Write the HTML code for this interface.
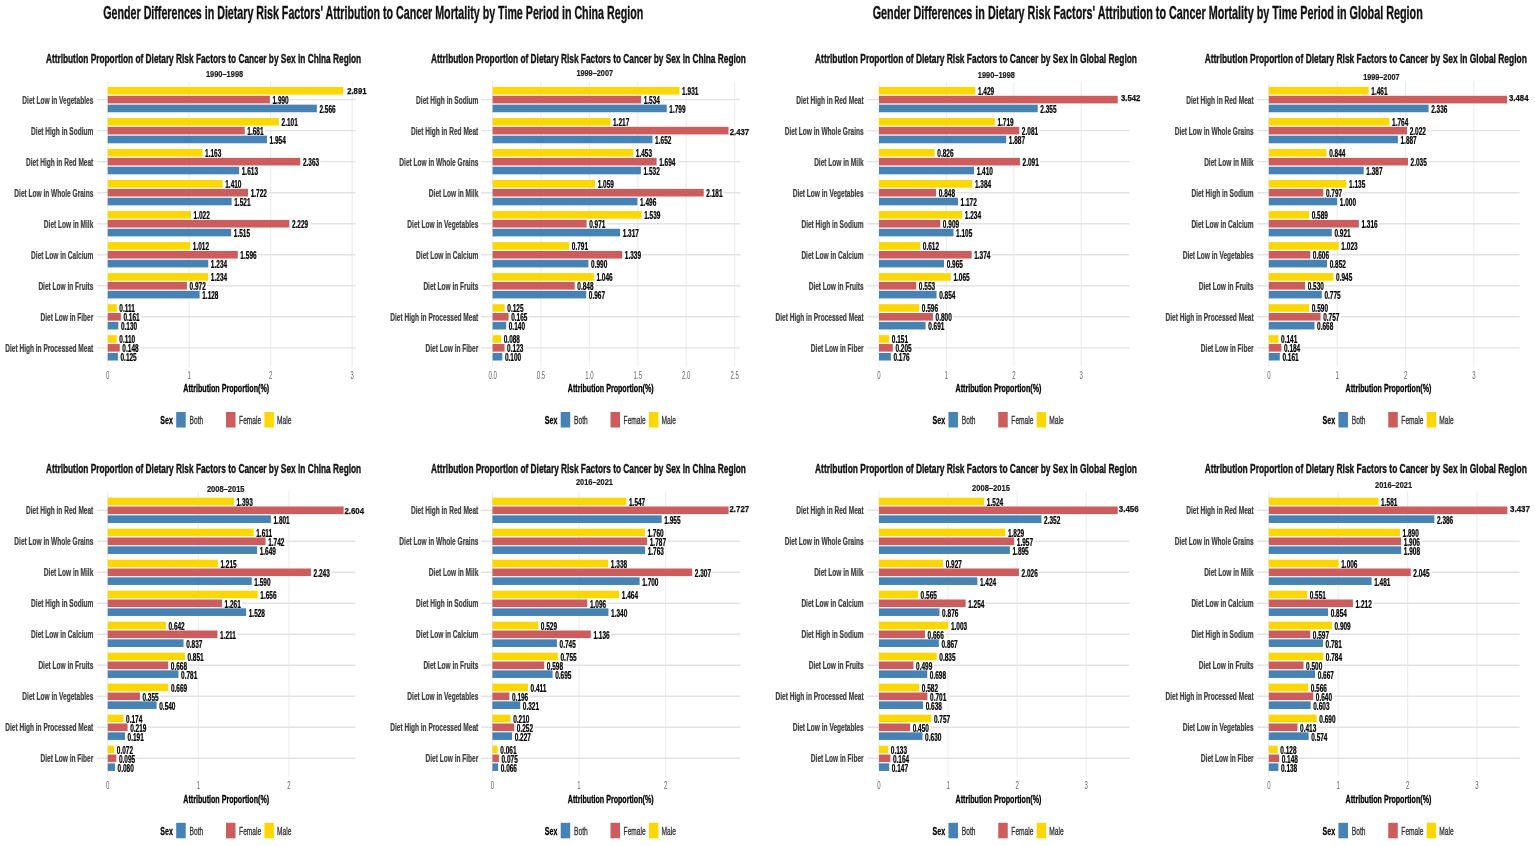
<!DOCTYPE html>
<html><head><meta charset="utf-8"><title>Gender Differences in Dietary Risk Factors</title>
<style>
html,body{margin:0;padding:0;background:#fff;overflow:hidden;}
svg{display:block;}
text{font-family:"Liberation Sans",Arial,sans-serif;}
</style></head>
<body>
<svg width="1535" height="846" viewBox="0 0 1535 846">
<rect width="1535" height="846" fill="#fff"/>
<text x="103.30" y="19.00" font-size="17.8" font-weight="bold" fill="#111" stroke="#111" stroke-width="0.35" textLength="539.90" lengthAdjust="spacingAndGlyphs">Gender Differences in Dietary Risk Factors' Attribution to Cancer Mortality by Time Period in China Region</text>
<text x="872.70" y="19.00" font-size="17.8" font-weight="bold" fill="#111" stroke="#111" stroke-width="0.35" textLength="550.10" lengthAdjust="spacingAndGlyphs">Gender Differences in Dietary Risk Factors' Attribution to Cancer Mortality by Time Period in Global Region</text>
<line x1="107.70" y1="81.3" x2="107.70" y2="367.0" stroke="#EEEEEE" stroke-width="1.2"/>
<line x1="189.20" y1="81.3" x2="189.20" y2="367.0" stroke="#EEEEEE" stroke-width="1.2"/>
<line x1="270.70" y1="81.3" x2="270.70" y2="367.0" stroke="#EEEEEE" stroke-width="1.2"/>
<line x1="352.20" y1="81.3" x2="352.20" y2="367.0" stroke="#EEEEEE" stroke-width="1.2"/>
<line x1="97.0" y1="99.60" x2="355.4" y2="99.60" stroke="#E3E3E3" stroke-width="1.4"/>
<line x1="97.0" y1="130.63" x2="355.4" y2="130.63" stroke="#E3E3E3" stroke-width="1.4"/>
<line x1="97.0" y1="161.66" x2="355.4" y2="161.66" stroke="#E3E3E3" stroke-width="1.4"/>
<line x1="97.0" y1="192.69" x2="355.4" y2="192.69" stroke="#E3E3E3" stroke-width="1.4"/>
<line x1="97.0" y1="223.72" x2="355.4" y2="223.72" stroke="#E3E3E3" stroke-width="1.4"/>
<line x1="97.0" y1="254.75" x2="355.4" y2="254.75" stroke="#E3E3E3" stroke-width="1.4"/>
<line x1="97.0" y1="285.78" x2="355.4" y2="285.78" stroke="#E3E3E3" stroke-width="1.4"/>
<line x1="97.0" y1="316.81" x2="355.4" y2="316.81" stroke="#E3E3E3" stroke-width="1.4"/>
<line x1="97.0" y1="347.84" x2="355.4" y2="347.84" stroke="#E3E3E3" stroke-width="1.4"/>
<rect x="343.32" y="86.80" width="24.68" height="8.50" fill="#fff"/>
<rect x="269.88" y="95.30" width="20.12" height="8.6" fill="#fff"/>
<rect x="316.83" y="104.15" width="20.12" height="8.6" fill="#fff"/>
<rect x="278.93" y="117.48" width="20.12" height="8.6" fill="#fff"/>
<rect x="244.70" y="126.33" width="20.12" height="8.6" fill="#fff"/>
<rect x="266.95" y="135.18" width="20.12" height="8.6" fill="#fff"/>
<rect x="202.48" y="148.51" width="20.12" height="8.6" fill="#fff"/>
<rect x="300.28" y="157.36" width="20.12" height="8.6" fill="#fff"/>
<rect x="239.16" y="166.21" width="20.12" height="8.6" fill="#fff"/>
<rect x="222.62" y="179.54" width="20.12" height="8.6" fill="#fff"/>
<rect x="248.04" y="188.39" width="20.12" height="8.6" fill="#fff"/>
<rect x="231.66" y="197.24" width="20.12" height="8.6" fill="#fff"/>
<rect x="190.99" y="210.57" width="20.12" height="8.6" fill="#fff"/>
<rect x="289.36" y="219.42" width="20.12" height="8.6" fill="#fff"/>
<rect x="231.17" y="228.27" width="20.12" height="8.6" fill="#fff"/>
<rect x="190.18" y="241.60" width="20.12" height="8.6" fill="#fff"/>
<rect x="237.77" y="250.45" width="20.12" height="8.6" fill="#fff"/>
<rect x="208.27" y="259.30" width="20.12" height="8.6" fill="#fff"/>
<rect x="208.27" y="272.63" width="20.12" height="8.6" fill="#fff"/>
<rect x="186.92" y="281.48" width="20.12" height="8.6" fill="#fff"/>
<rect x="199.63" y="290.33" width="20.12" height="8.6" fill="#fff"/>
<rect x="116.75" y="303.66" width="20.12" height="8.6" fill="#fff"/>
<rect x="120.82" y="312.51" width="20.12" height="8.6" fill="#fff"/>
<rect x="118.30" y="321.36" width="20.12" height="8.6" fill="#fff"/>
<rect x="116.67" y="334.69" width="20.12" height="8.6" fill="#fff"/>
<rect x="119.76" y="343.54" width="20.12" height="8.6" fill="#fff"/>
<rect x="117.89" y="352.39" width="20.12" height="8.6" fill="#fff"/>
<rect x="107.70" y="86.95" width="235.62" height="7.6" fill="#FFD700"/>
<rect x="107.70" y="95.80" width="162.19" height="7.6" fill="#CD5C5C"/>
<rect x="107.70" y="104.65" width="209.13" height="7.6" fill="#4682B4"/>
<rect x="107.70" y="117.98" width="171.23" height="7.6" fill="#FFD700"/>
<rect x="107.70" y="126.83" width="137.00" height="7.6" fill="#CD5C5C"/>
<rect x="107.70" y="135.68" width="159.25" height="7.6" fill="#4682B4"/>
<rect x="107.70" y="149.01" width="94.78" height="7.6" fill="#FFD700"/>
<rect x="107.70" y="157.86" width="192.58" height="7.6" fill="#CD5C5C"/>
<rect x="107.70" y="166.71" width="131.46" height="7.6" fill="#4682B4"/>
<rect x="107.70" y="180.04" width="114.91" height="7.6" fill="#FFD700"/>
<rect x="107.70" y="188.89" width="140.34" height="7.6" fill="#CD5C5C"/>
<rect x="107.70" y="197.74" width="123.96" height="7.6" fill="#4682B4"/>
<rect x="107.70" y="211.07" width="83.29" height="7.6" fill="#FFD700"/>
<rect x="107.70" y="219.92" width="181.66" height="7.6" fill="#CD5C5C"/>
<rect x="107.70" y="228.77" width="123.47" height="7.6" fill="#4682B4"/>
<rect x="107.70" y="242.10" width="82.48" height="7.6" fill="#FFD700"/>
<rect x="107.70" y="250.95" width="130.07" height="7.6" fill="#CD5C5C"/>
<rect x="107.70" y="259.80" width="100.57" height="7.6" fill="#4682B4"/>
<rect x="107.70" y="273.13" width="100.57" height="7.6" fill="#FFD700"/>
<rect x="107.70" y="281.98" width="79.22" height="7.6" fill="#CD5C5C"/>
<rect x="107.70" y="290.83" width="91.93" height="7.6" fill="#4682B4"/>
<rect x="107.70" y="304.16" width="9.05" height="7.6" fill="#FFD700"/>
<rect x="107.70" y="313.01" width="13.12" height="7.6" fill="#CD5C5C"/>
<rect x="107.70" y="321.86" width="10.60" height="7.6" fill="#4682B4"/>
<rect x="107.70" y="335.19" width="8.96" height="7.6" fill="#FFD700"/>
<rect x="107.70" y="344.04" width="12.06" height="7.6" fill="#CD5C5C"/>
<rect x="107.70" y="352.89" width="10.19" height="7.6" fill="#4682B4"/>
<text x="347.20" y="93.80" font-size="8.4" font-weight="bold" fill="#111" stroke="#111" stroke-width="0.25" textLength="19.30" lengthAdjust="spacingAndGlyphs">2.891</text>
<text transform="translate(272.49,104.10) scale(0.650,1)" font-size="10.0" font-weight="bold" fill="#000" text-anchor="start" stroke="#000" stroke-width="0.25">1.990</text>
<text transform="translate(319.43,112.95) scale(0.650,1)" font-size="10.0" font-weight="bold" fill="#000" text-anchor="start" stroke="#000" stroke-width="0.25">2.566</text>
<text transform="translate(93.30,103.60) scale(0.590,1)" font-size="11.1" font-weight="bold" fill="#404040" text-anchor="end" stroke="#404040" stroke-width="0.25">Diet Low in Vegetables</text>
<text transform="translate(281.53,126.28) scale(0.650,1)" font-size="10.0" font-weight="bold" fill="#000" text-anchor="start" stroke="#000" stroke-width="0.25">2.101</text>
<text transform="translate(247.30,135.13) scale(0.650,1)" font-size="10.0" font-weight="bold" fill="#000" text-anchor="start" stroke="#000" stroke-width="0.25">1.681</text>
<text transform="translate(269.55,143.98) scale(0.650,1)" font-size="10.0" font-weight="bold" fill="#000" text-anchor="start" stroke="#000" stroke-width="0.25">1.954</text>
<text transform="translate(93.30,134.63) scale(0.590,1)" font-size="11.1" font-weight="bold" fill="#404040" text-anchor="end" stroke="#404040" stroke-width="0.25">Diet High in Sodium</text>
<text transform="translate(205.08,157.31) scale(0.650,1)" font-size="10.0" font-weight="bold" fill="#000" text-anchor="start" stroke="#000" stroke-width="0.25">1.163</text>
<text transform="translate(302.88,166.16) scale(0.650,1)" font-size="10.0" font-weight="bold" fill="#000" text-anchor="start" stroke="#000" stroke-width="0.25">2.363</text>
<text transform="translate(241.76,175.01) scale(0.650,1)" font-size="10.0" font-weight="bold" fill="#000" text-anchor="start" stroke="#000" stroke-width="0.25">1.613</text>
<text transform="translate(93.30,165.66) scale(0.590,1)" font-size="11.1" font-weight="bold" fill="#404040" text-anchor="end" stroke="#404040" stroke-width="0.25">Diet High in Red Meat</text>
<text transform="translate(225.22,188.34) scale(0.650,1)" font-size="10.0" font-weight="bold" fill="#000" text-anchor="start" stroke="#000" stroke-width="0.25">1.410</text>
<text transform="translate(250.64,197.19) scale(0.650,1)" font-size="10.0" font-weight="bold" fill="#000" text-anchor="start" stroke="#000" stroke-width="0.25">1.722</text>
<text transform="translate(234.26,206.04) scale(0.650,1)" font-size="10.0" font-weight="bold" fill="#000" text-anchor="start" stroke="#000" stroke-width="0.25">1.521</text>
<text transform="translate(93.30,196.69) scale(0.590,1)" font-size="11.1" font-weight="bold" fill="#404040" text-anchor="end" stroke="#404040" stroke-width="0.25">Diet Low in Whole Grains</text>
<text transform="translate(193.59,219.37) scale(0.650,1)" font-size="10.0" font-weight="bold" fill="#000" text-anchor="start" stroke="#000" stroke-width="0.25">1.022</text>
<text transform="translate(291.96,228.22) scale(0.650,1)" font-size="10.0" font-weight="bold" fill="#000" text-anchor="start" stroke="#000" stroke-width="0.25">2.229</text>
<text transform="translate(233.77,237.07) scale(0.650,1)" font-size="10.0" font-weight="bold" fill="#000" text-anchor="start" stroke="#000" stroke-width="0.25">1.515</text>
<text transform="translate(93.30,227.72) scale(0.590,1)" font-size="11.1" font-weight="bold" fill="#404040" text-anchor="end" stroke="#404040" stroke-width="0.25">Diet Low in Milk</text>
<text transform="translate(192.78,250.40) scale(0.650,1)" font-size="10.0" font-weight="bold" fill="#000" text-anchor="start" stroke="#000" stroke-width="0.25">1.012</text>
<text transform="translate(240.37,259.25) scale(0.650,1)" font-size="10.0" font-weight="bold" fill="#000" text-anchor="start" stroke="#000" stroke-width="0.25">1.596</text>
<text transform="translate(210.87,268.10) scale(0.650,1)" font-size="10.0" font-weight="bold" fill="#000" text-anchor="start" stroke="#000" stroke-width="0.25">1.234</text>
<text transform="translate(93.30,258.75) scale(0.590,1)" font-size="11.1" font-weight="bold" fill="#404040" text-anchor="end" stroke="#404040" stroke-width="0.25">Diet Low in Calcium</text>
<text transform="translate(210.87,281.43) scale(0.650,1)" font-size="10.0" font-weight="bold" fill="#000" text-anchor="start" stroke="#000" stroke-width="0.25">1.234</text>
<text transform="translate(189.52,290.28) scale(0.650,1)" font-size="10.0" font-weight="bold" fill="#000" text-anchor="start" stroke="#000" stroke-width="0.25">0.972</text>
<text transform="translate(202.23,299.13) scale(0.650,1)" font-size="10.0" font-weight="bold" fill="#000" text-anchor="start" stroke="#000" stroke-width="0.25">1.128</text>
<text transform="translate(93.30,289.78) scale(0.590,1)" font-size="11.1" font-weight="bold" fill="#404040" text-anchor="end" stroke="#404040" stroke-width="0.25">Diet Low in Fruits</text>
<text transform="translate(119.35,312.46) scale(0.650,1)" font-size="10.0" font-weight="bold" fill="#000" text-anchor="start" stroke="#000" stroke-width="0.25">0.111</text>
<text transform="translate(123.42,321.31) scale(0.650,1)" font-size="10.0" font-weight="bold" fill="#000" text-anchor="start" stroke="#000" stroke-width="0.25">0.161</text>
<text transform="translate(120.89,330.16) scale(0.650,1)" font-size="10.0" font-weight="bold" fill="#000" text-anchor="start" stroke="#000" stroke-width="0.25">0.130</text>
<text transform="translate(93.30,320.81) scale(0.590,1)" font-size="11.1" font-weight="bold" fill="#404040" text-anchor="end" stroke="#404040" stroke-width="0.25">Diet Low in Fiber</text>
<text transform="translate(119.27,343.49) scale(0.650,1)" font-size="10.0" font-weight="bold" fill="#000" text-anchor="start" stroke="#000" stroke-width="0.25">0.110</text>
<text transform="translate(122.36,352.34) scale(0.650,1)" font-size="10.0" font-weight="bold" fill="#000" text-anchor="start" stroke="#000" stroke-width="0.25">0.148</text>
<text transform="translate(120.49,361.19) scale(0.650,1)" font-size="10.0" font-weight="bold" fill="#000" text-anchor="start" stroke="#000" stroke-width="0.25">0.125</text>
<text transform="translate(93.30,351.84) scale(0.590,1)" font-size="11.1" font-weight="bold" fill="#404040" text-anchor="end" stroke="#404040" stroke-width="0.25">Diet High in Processed Meat</text>
<text transform="translate(107.70,378.70) scale(0.580,1)" font-size="10.4" font-weight="normal" fill="#666666" text-anchor="middle">0</text>
<text transform="translate(189.20,378.70) scale(0.580,1)" font-size="10.4" font-weight="normal" fill="#666666" text-anchor="middle">1</text>
<text transform="translate(270.70,378.70) scale(0.580,1)" font-size="10.4" font-weight="normal" fill="#666666" text-anchor="middle">2</text>
<text transform="translate(352.20,378.70) scale(0.580,1)" font-size="10.4" font-weight="normal" fill="#666666" text-anchor="middle">3</text>
<text transform="translate(226.20,392.00) scale(0.685,1)" font-size="10.4" font-weight="bold" fill="#000" text-anchor="middle" stroke="#000" stroke-width="0.3">Attribution Proportion(%)</text>
<text x="45.90" y="62.90" font-size="12.9" font-weight="bold" fill="#111" stroke="#111" stroke-width="0.4" textLength="315.30" lengthAdjust="spacingAndGlyphs">Attribution Proportion of Dietary Risk Factors to Cancer by Sex in China Region</text>
<text x="205.90" y="76.70" font-size="9.0" font-weight="bold" fill="#1a1a1a" stroke="#1a1a1a" stroke-width="0.2" textLength="37.30" lengthAdjust="spacingAndGlyphs">1990–1998</text>
<text transform="translate(160.30,424.20) scale(0.600,1)" font-size="11.8" font-weight="bold" fill="#000" text-anchor="start" stroke="#000" stroke-width="0.3">Sex</text>
<rect x="176.20" y="412.00" width="9.5" height="15.5" fill="#4682B4"/>
<text transform="translate(189.60,424.00) scale(0.575,1)" font-size="11.5" font-weight="normal" fill="#333" text-anchor="start" stroke="#333" stroke-width="0.35">Both</text>
<rect x="226.00" y="412.00" width="9.5" height="15.5" fill="#CD5C5C"/>
<text transform="translate(239.10,424.00) scale(0.575,1)" font-size="11.5" font-weight="normal" fill="#333" text-anchor="start" stroke="#333" stroke-width="0.35">Female</text>
<rect x="264.40" y="412.00" width="9.5" height="15.5" fill="#FFD700"/>
<text transform="translate(277.10,424.00) scale(0.575,1)" font-size="11.5" font-weight="normal" fill="#333" text-anchor="start" stroke="#333" stroke-width="0.35">Male</text>
<line x1="492.60" y1="81.3" x2="492.60" y2="367.0" stroke="#EEEEEE" stroke-width="1.2"/>
<line x1="541.00" y1="81.3" x2="541.00" y2="367.0" stroke="#EEEEEE" stroke-width="1.2"/>
<line x1="589.40" y1="81.3" x2="589.40" y2="367.0" stroke="#EEEEEE" stroke-width="1.2"/>
<line x1="637.80" y1="81.3" x2="637.80" y2="367.0" stroke="#EEEEEE" stroke-width="1.2"/>
<line x1="686.20" y1="81.3" x2="686.20" y2="367.0" stroke="#EEEEEE" stroke-width="1.2"/>
<line x1="734.60" y1="81.3" x2="734.60" y2="367.0" stroke="#EEEEEE" stroke-width="1.2"/>
<line x1="481.0" y1="99.60" x2="740.4" y2="99.60" stroke="#E3E3E3" stroke-width="1.4"/>
<line x1="481.0" y1="130.63" x2="740.4" y2="130.63" stroke="#E3E3E3" stroke-width="1.4"/>
<line x1="481.0" y1="161.66" x2="740.4" y2="161.66" stroke="#E3E3E3" stroke-width="1.4"/>
<line x1="481.0" y1="192.69" x2="740.4" y2="192.69" stroke="#E3E3E3" stroke-width="1.4"/>
<line x1="481.0" y1="223.72" x2="740.4" y2="223.72" stroke="#E3E3E3" stroke-width="1.4"/>
<line x1="481.0" y1="254.75" x2="740.4" y2="254.75" stroke="#E3E3E3" stroke-width="1.4"/>
<line x1="481.0" y1="285.78" x2="740.4" y2="285.78" stroke="#E3E3E3" stroke-width="1.4"/>
<line x1="481.0" y1="316.81" x2="740.4" y2="316.81" stroke="#E3E3E3" stroke-width="1.4"/>
<line x1="481.0" y1="347.84" x2="740.4" y2="347.84" stroke="#E3E3E3" stroke-width="1.4"/>
<rect x="679.52" y="86.45" width="20.12" height="8.6" fill="#fff"/>
<rect x="641.09" y="95.30" width="20.12" height="8.6" fill="#fff"/>
<rect x="666.74" y="104.15" width="20.12" height="8.6" fill="#fff"/>
<rect x="610.41" y="117.48" width="20.12" height="8.6" fill="#fff"/>
<rect x="728.50" y="126.80" width="22.20" height="9.20" fill="#fff"/>
<rect x="652.51" y="135.18" width="20.12" height="8.6" fill="#fff"/>
<rect x="633.25" y="148.51" width="20.12" height="8.6" fill="#fff"/>
<rect x="656.58" y="157.36" width="20.12" height="8.6" fill="#fff"/>
<rect x="640.90" y="166.21" width="20.12" height="8.6" fill="#fff"/>
<rect x="595.11" y="179.54" width="20.12" height="8.6" fill="#fff"/>
<rect x="703.72" y="188.39" width="20.12" height="8.6" fill="#fff"/>
<rect x="637.41" y="197.24" width="20.12" height="8.6" fill="#fff"/>
<rect x="641.58" y="210.57" width="20.12" height="8.6" fill="#fff"/>
<rect x="586.59" y="219.42" width="20.12" height="8.6" fill="#fff"/>
<rect x="620.09" y="228.27" width="20.12" height="8.6" fill="#fff"/>
<rect x="569.17" y="241.60" width="20.12" height="8.6" fill="#fff"/>
<rect x="622.22" y="250.45" width="20.12" height="8.6" fill="#fff"/>
<rect x="588.43" y="259.30" width="20.12" height="8.6" fill="#fff"/>
<rect x="593.85" y="272.63" width="20.12" height="8.6" fill="#fff"/>
<rect x="574.69" y="281.48" width="20.12" height="8.6" fill="#fff"/>
<rect x="586.21" y="290.33" width="20.12" height="8.6" fill="#fff"/>
<rect x="504.70" y="303.66" width="20.12" height="8.6" fill="#fff"/>
<rect x="508.57" y="312.51" width="20.12" height="8.6" fill="#fff"/>
<rect x="506.15" y="321.36" width="20.12" height="8.6" fill="#fff"/>
<rect x="501.12" y="334.69" width="20.12" height="8.6" fill="#fff"/>
<rect x="504.51" y="343.54" width="20.12" height="8.6" fill="#fff"/>
<rect x="502.28" y="352.39" width="20.12" height="8.6" fill="#fff"/>
<rect x="492.60" y="86.95" width="186.92" height="7.6" fill="#FFD700"/>
<rect x="492.60" y="95.80" width="148.49" height="7.6" fill="#CD5C5C"/>
<rect x="492.60" y="104.65" width="174.14" height="7.6" fill="#4682B4"/>
<rect x="492.60" y="117.98" width="117.81" height="7.6" fill="#FFD700"/>
<rect x="492.60" y="126.83" width="235.90" height="7.6" fill="#CD5C5C"/>
<rect x="492.60" y="135.68" width="159.91" height="7.6" fill="#4682B4"/>
<rect x="492.60" y="149.01" width="140.65" height="7.6" fill="#FFD700"/>
<rect x="492.60" y="157.86" width="163.98" height="7.6" fill="#CD5C5C"/>
<rect x="492.60" y="166.71" width="148.30" height="7.6" fill="#4682B4"/>
<rect x="492.60" y="180.04" width="102.51" height="7.6" fill="#FFD700"/>
<rect x="492.60" y="188.89" width="211.12" height="7.6" fill="#CD5C5C"/>
<rect x="492.60" y="197.74" width="144.81" height="7.6" fill="#4682B4"/>
<rect x="492.60" y="211.07" width="148.98" height="7.6" fill="#FFD700"/>
<rect x="492.60" y="219.92" width="93.99" height="7.6" fill="#CD5C5C"/>
<rect x="492.60" y="228.77" width="127.49" height="7.6" fill="#4682B4"/>
<rect x="492.60" y="242.10" width="76.57" height="7.6" fill="#FFD700"/>
<rect x="492.60" y="250.95" width="129.62" height="7.6" fill="#CD5C5C"/>
<rect x="492.60" y="259.80" width="95.83" height="7.6" fill="#4682B4"/>
<rect x="492.60" y="273.13" width="101.25" height="7.6" fill="#FFD700"/>
<rect x="492.60" y="281.98" width="82.09" height="7.6" fill="#CD5C5C"/>
<rect x="492.60" y="290.83" width="93.61" height="7.6" fill="#4682B4"/>
<rect x="492.60" y="304.16" width="12.10" height="7.6" fill="#FFD700"/>
<rect x="492.60" y="313.01" width="15.97" height="7.6" fill="#CD5C5C"/>
<rect x="492.60" y="321.86" width="13.55" height="7.6" fill="#4682B4"/>
<rect x="492.60" y="335.19" width="8.52" height="7.6" fill="#FFD700"/>
<rect x="492.60" y="344.04" width="11.91" height="7.6" fill="#CD5C5C"/>
<rect x="492.60" y="352.89" width="9.68" height="7.6" fill="#4682B4"/>
<text transform="translate(682.12,95.25) scale(0.650,1)" font-size="10.0" font-weight="bold" fill="#000" text-anchor="start" stroke="#000" stroke-width="0.25">1.931</text>
<text transform="translate(643.69,104.10) scale(0.650,1)" font-size="10.0" font-weight="bold" fill="#000" text-anchor="start" stroke="#000" stroke-width="0.25">1.534</text>
<text transform="translate(669.34,112.95) scale(0.650,1)" font-size="10.0" font-weight="bold" fill="#000" text-anchor="start" stroke="#000" stroke-width="0.25">1.799</text>
<text transform="translate(478.30,103.60) scale(0.590,1)" font-size="11.1" font-weight="bold" fill="#404040" text-anchor="end" stroke="#404040" stroke-width="0.25">Diet High in Sodium</text>
<text transform="translate(613.01,126.28) scale(0.650,1)" font-size="10.0" font-weight="bold" fill="#000" text-anchor="start" stroke="#000" stroke-width="0.25">1.217</text>
<text x="729.70" y="134.50" font-size="8.4" font-weight="bold" fill="#111" stroke="#111" stroke-width="0.25" textLength="19.50" lengthAdjust="spacingAndGlyphs">2.437</text>
<text transform="translate(655.11,143.98) scale(0.650,1)" font-size="10.0" font-weight="bold" fill="#000" text-anchor="start" stroke="#000" stroke-width="0.25">1.652</text>
<text transform="translate(478.30,134.63) scale(0.590,1)" font-size="11.1" font-weight="bold" fill="#404040" text-anchor="end" stroke="#404040" stroke-width="0.25">Diet High in Red Meat</text>
<text transform="translate(635.85,157.31) scale(0.650,1)" font-size="10.0" font-weight="bold" fill="#000" text-anchor="start" stroke="#000" stroke-width="0.25">1.453</text>
<text transform="translate(659.18,166.16) scale(0.650,1)" font-size="10.0" font-weight="bold" fill="#000" text-anchor="start" stroke="#000" stroke-width="0.25">1.694</text>
<text transform="translate(643.50,175.01) scale(0.650,1)" font-size="10.0" font-weight="bold" fill="#000" text-anchor="start" stroke="#000" stroke-width="0.25">1.532</text>
<text transform="translate(478.30,165.66) scale(0.590,1)" font-size="11.1" font-weight="bold" fill="#404040" text-anchor="end" stroke="#404040" stroke-width="0.25">Diet Low in Whole Grains</text>
<text transform="translate(597.71,188.34) scale(0.650,1)" font-size="10.0" font-weight="bold" fill="#000" text-anchor="start" stroke="#000" stroke-width="0.25">1.059</text>
<text transform="translate(706.32,197.19) scale(0.650,1)" font-size="10.0" font-weight="bold" fill="#000" text-anchor="start" stroke="#000" stroke-width="0.25">2.181</text>
<text transform="translate(640.01,206.04) scale(0.650,1)" font-size="10.0" font-weight="bold" fill="#000" text-anchor="start" stroke="#000" stroke-width="0.25">1.496</text>
<text transform="translate(478.30,196.69) scale(0.590,1)" font-size="11.1" font-weight="bold" fill="#404040" text-anchor="end" stroke="#404040" stroke-width="0.25">Diet Low in Milk</text>
<text transform="translate(644.18,219.37) scale(0.650,1)" font-size="10.0" font-weight="bold" fill="#000" text-anchor="start" stroke="#000" stroke-width="0.25">1.539</text>
<text transform="translate(589.19,228.22) scale(0.650,1)" font-size="10.0" font-weight="bold" fill="#000" text-anchor="start" stroke="#000" stroke-width="0.25">0.971</text>
<text transform="translate(622.69,237.07) scale(0.650,1)" font-size="10.0" font-weight="bold" fill="#000" text-anchor="start" stroke="#000" stroke-width="0.25">1.317</text>
<text transform="translate(478.30,227.72) scale(0.590,1)" font-size="11.1" font-weight="bold" fill="#404040" text-anchor="end" stroke="#404040" stroke-width="0.25">Diet Low in Vegetables</text>
<text transform="translate(571.77,250.40) scale(0.650,1)" font-size="10.0" font-weight="bold" fill="#000" text-anchor="start" stroke="#000" stroke-width="0.25">0.791</text>
<text transform="translate(624.82,259.25) scale(0.650,1)" font-size="10.0" font-weight="bold" fill="#000" text-anchor="start" stroke="#000" stroke-width="0.25">1.339</text>
<text transform="translate(591.03,268.10) scale(0.650,1)" font-size="10.0" font-weight="bold" fill="#000" text-anchor="start" stroke="#000" stroke-width="0.25">0.990</text>
<text transform="translate(478.30,258.75) scale(0.590,1)" font-size="11.1" font-weight="bold" fill="#404040" text-anchor="end" stroke="#404040" stroke-width="0.25">Diet Low in Calcium</text>
<text transform="translate(596.45,281.43) scale(0.650,1)" font-size="10.0" font-weight="bold" fill="#000" text-anchor="start" stroke="#000" stroke-width="0.25">1.046</text>
<text transform="translate(577.29,290.28) scale(0.650,1)" font-size="10.0" font-weight="bold" fill="#000" text-anchor="start" stroke="#000" stroke-width="0.25">0.848</text>
<text transform="translate(588.81,299.13) scale(0.650,1)" font-size="10.0" font-weight="bold" fill="#000" text-anchor="start" stroke="#000" stroke-width="0.25">0.967</text>
<text transform="translate(478.30,289.78) scale(0.590,1)" font-size="11.1" font-weight="bold" fill="#404040" text-anchor="end" stroke="#404040" stroke-width="0.25">Diet Low in Fruits</text>
<text transform="translate(507.30,312.46) scale(0.650,1)" font-size="10.0" font-weight="bold" fill="#000" text-anchor="start" stroke="#000" stroke-width="0.25">0.125</text>
<text transform="translate(511.17,321.31) scale(0.650,1)" font-size="10.0" font-weight="bold" fill="#000" text-anchor="start" stroke="#000" stroke-width="0.25">0.165</text>
<text transform="translate(508.75,330.16) scale(0.650,1)" font-size="10.0" font-weight="bold" fill="#000" text-anchor="start" stroke="#000" stroke-width="0.25">0.140</text>
<text transform="translate(478.30,320.81) scale(0.590,1)" font-size="11.1" font-weight="bold" fill="#404040" text-anchor="end" stroke="#404040" stroke-width="0.25">Diet High in Processed Meat</text>
<text transform="translate(503.72,343.49) scale(0.650,1)" font-size="10.0" font-weight="bold" fill="#000" text-anchor="start" stroke="#000" stroke-width="0.25">0.088</text>
<text transform="translate(507.11,352.34) scale(0.650,1)" font-size="10.0" font-weight="bold" fill="#000" text-anchor="start" stroke="#000" stroke-width="0.25">0.123</text>
<text transform="translate(504.88,361.19) scale(0.650,1)" font-size="10.0" font-weight="bold" fill="#000" text-anchor="start" stroke="#000" stroke-width="0.25">0.100</text>
<text transform="translate(478.30,351.84) scale(0.590,1)" font-size="11.1" font-weight="bold" fill="#404040" text-anchor="end" stroke="#404040" stroke-width="0.25">Diet Low in Fiber</text>
<text transform="translate(492.60,378.70) scale(0.580,1)" font-size="10.4" font-weight="normal" fill="#666666" text-anchor="middle">0.0</text>
<text transform="translate(541.00,378.70) scale(0.580,1)" font-size="10.4" font-weight="normal" fill="#666666" text-anchor="middle">0.5</text>
<text transform="translate(589.40,378.70) scale(0.580,1)" font-size="10.4" font-weight="normal" fill="#666666" text-anchor="middle">1.0</text>
<text transform="translate(637.80,378.70) scale(0.580,1)" font-size="10.4" font-weight="normal" fill="#666666" text-anchor="middle">1.5</text>
<text transform="translate(686.20,378.70) scale(0.580,1)" font-size="10.4" font-weight="normal" fill="#666666" text-anchor="middle">2.0</text>
<text transform="translate(734.60,378.70) scale(0.580,1)" font-size="10.4" font-weight="normal" fill="#666666" text-anchor="middle">2.5</text>
<text transform="translate(610.70,392.00) scale(0.685,1)" font-size="10.4" font-weight="bold" fill="#000" text-anchor="middle" stroke="#000" stroke-width="0.3">Attribution Proportion(%)</text>
<text x="431.10" y="62.90" font-size="12.9" font-weight="bold" fill="#111" stroke="#111" stroke-width="0.4" textLength="314.80" lengthAdjust="spacingAndGlyphs">Attribution Proportion of Dietary Risk Factors to Cancer by Sex in China Region</text>
<text x="576.40" y="76.10" font-size="9.0" font-weight="bold" fill="#1a1a1a" stroke="#1a1a1a" stroke-width="0.2" textLength="36.70" lengthAdjust="spacingAndGlyphs">1999–2007</text>
<text transform="translate(544.80,424.20) scale(0.600,1)" font-size="11.8" font-weight="bold" fill="#000" text-anchor="start" stroke="#000" stroke-width="0.3">Sex</text>
<rect x="560.70" y="412.00" width="9.5" height="15.5" fill="#4682B4"/>
<text transform="translate(574.10,424.00) scale(0.575,1)" font-size="11.5" font-weight="normal" fill="#333" text-anchor="start" stroke="#333" stroke-width="0.35">Both</text>
<rect x="610.50" y="412.00" width="9.5" height="15.5" fill="#CD5C5C"/>
<text transform="translate(623.60,424.00) scale(0.575,1)" font-size="11.5" font-weight="normal" fill="#333" text-anchor="start" stroke="#333" stroke-width="0.35">Female</text>
<rect x="648.90" y="412.00" width="9.5" height="15.5" fill="#FFD700"/>
<text transform="translate(661.60,424.00) scale(0.575,1)" font-size="11.5" font-weight="normal" fill="#333" text-anchor="start" stroke="#333" stroke-width="0.35">Male</text>
<line x1="879.00" y1="81.3" x2="879.00" y2="367.0" stroke="#EEEEEE" stroke-width="1.2"/>
<line x1="946.40" y1="81.3" x2="946.40" y2="367.0" stroke="#EEEEEE" stroke-width="1.2"/>
<line x1="1013.80" y1="81.3" x2="1013.80" y2="367.0" stroke="#EEEEEE" stroke-width="1.2"/>
<line x1="1081.20" y1="81.3" x2="1081.20" y2="367.0" stroke="#EEEEEE" stroke-width="1.2"/>
<line x1="867.3" y1="99.60" x2="1129.6" y2="99.60" stroke="#E3E3E3" stroke-width="1.4"/>
<line x1="867.3" y1="130.63" x2="1129.6" y2="130.63" stroke="#E3E3E3" stroke-width="1.4"/>
<line x1="867.3" y1="161.66" x2="1129.6" y2="161.66" stroke="#E3E3E3" stroke-width="1.4"/>
<line x1="867.3" y1="192.69" x2="1129.6" y2="192.69" stroke="#E3E3E3" stroke-width="1.4"/>
<line x1="867.3" y1="223.72" x2="1129.6" y2="223.72" stroke="#E3E3E3" stroke-width="1.4"/>
<line x1="867.3" y1="254.75" x2="1129.6" y2="254.75" stroke="#E3E3E3" stroke-width="1.4"/>
<line x1="867.3" y1="285.78" x2="1129.6" y2="285.78" stroke="#E3E3E3" stroke-width="1.4"/>
<line x1="867.3" y1="316.81" x2="1129.6" y2="316.81" stroke="#E3E3E3" stroke-width="1.4"/>
<line x1="867.3" y1="347.84" x2="1129.6" y2="347.84" stroke="#E3E3E3" stroke-width="1.4"/>
<rect x="975.31" y="86.45" width="20.12" height="8.6" fill="#fff"/>
<rect x="1117.73" y="93.40" width="24.17" height="9.00" fill="#fff"/>
<rect x="1037.73" y="104.15" width="20.12" height="8.6" fill="#fff"/>
<rect x="994.86" y="117.48" width="20.12" height="8.6" fill="#fff"/>
<rect x="1019.26" y="126.33" width="20.12" height="8.6" fill="#fff"/>
<rect x="1006.18" y="135.18" width="20.12" height="8.6" fill="#fff"/>
<rect x="934.67" y="148.51" width="20.12" height="8.6" fill="#fff"/>
<rect x="1019.93" y="157.36" width="20.12" height="8.6" fill="#fff"/>
<rect x="974.03" y="166.21" width="20.12" height="8.6" fill="#fff"/>
<rect x="972.28" y="179.54" width="20.12" height="8.6" fill="#fff"/>
<rect x="936.16" y="188.39" width="20.12" height="8.6" fill="#fff"/>
<rect x="957.99" y="197.24" width="20.12" height="8.6" fill="#fff"/>
<rect x="962.17" y="210.57" width="20.12" height="8.6" fill="#fff"/>
<rect x="940.27" y="219.42" width="20.12" height="8.6" fill="#fff"/>
<rect x="953.48" y="228.27" width="20.12" height="8.6" fill="#fff"/>
<rect x="920.25" y="241.60" width="20.12" height="8.6" fill="#fff"/>
<rect x="971.61" y="250.45" width="20.12" height="8.6" fill="#fff"/>
<rect x="944.04" y="259.30" width="20.12" height="8.6" fill="#fff"/>
<rect x="950.78" y="272.63" width="20.12" height="8.6" fill="#fff"/>
<rect x="916.27" y="281.48" width="20.12" height="8.6" fill="#fff"/>
<rect x="936.56" y="290.33" width="20.12" height="8.6" fill="#fff"/>
<rect x="919.17" y="303.66" width="20.12" height="8.6" fill="#fff"/>
<rect x="932.92" y="312.51" width="20.12" height="8.6" fill="#fff"/>
<rect x="925.57" y="321.36" width="20.12" height="8.6" fill="#fff"/>
<rect x="889.18" y="334.69" width="20.12" height="8.6" fill="#fff"/>
<rect x="892.82" y="343.54" width="20.12" height="8.6" fill="#fff"/>
<rect x="890.86" y="352.39" width="20.12" height="8.6" fill="#fff"/>
<rect x="879.00" y="86.95" width="96.31" height="7.6" fill="#FFD700"/>
<rect x="879.00" y="95.80" width="238.73" height="7.6" fill="#CD5C5C"/>
<rect x="879.00" y="104.65" width="158.73" height="7.6" fill="#4682B4"/>
<rect x="879.00" y="117.98" width="115.86" height="7.6" fill="#FFD700"/>
<rect x="879.00" y="126.83" width="140.26" height="7.6" fill="#CD5C5C"/>
<rect x="879.00" y="135.68" width="127.18" height="7.6" fill="#4682B4"/>
<rect x="879.00" y="149.01" width="55.67" height="7.6" fill="#FFD700"/>
<rect x="879.00" y="157.86" width="140.93" height="7.6" fill="#CD5C5C"/>
<rect x="879.00" y="166.71" width="95.03" height="7.6" fill="#4682B4"/>
<rect x="879.00" y="180.04" width="93.28" height="7.6" fill="#FFD700"/>
<rect x="879.00" y="188.89" width="57.16" height="7.6" fill="#CD5C5C"/>
<rect x="879.00" y="197.74" width="78.99" height="7.6" fill="#4682B4"/>
<rect x="879.00" y="211.07" width="83.17" height="7.6" fill="#FFD700"/>
<rect x="879.00" y="219.92" width="61.27" height="7.6" fill="#CD5C5C"/>
<rect x="879.00" y="228.77" width="74.48" height="7.6" fill="#4682B4"/>
<rect x="879.00" y="242.10" width="41.25" height="7.6" fill="#FFD700"/>
<rect x="879.00" y="250.95" width="92.61" height="7.6" fill="#CD5C5C"/>
<rect x="879.00" y="259.80" width="65.04" height="7.6" fill="#4682B4"/>
<rect x="879.00" y="273.13" width="71.78" height="7.6" fill="#FFD700"/>
<rect x="879.00" y="281.98" width="37.27" height="7.6" fill="#CD5C5C"/>
<rect x="879.00" y="290.83" width="57.56" height="7.6" fill="#4682B4"/>
<rect x="879.00" y="304.16" width="40.17" height="7.6" fill="#FFD700"/>
<rect x="879.00" y="313.01" width="53.92" height="7.6" fill="#CD5C5C"/>
<rect x="879.00" y="321.86" width="46.57" height="7.6" fill="#4682B4"/>
<rect x="879.00" y="335.19" width="10.18" height="7.6" fill="#FFD700"/>
<rect x="879.00" y="344.04" width="13.82" height="7.6" fill="#CD5C5C"/>
<rect x="879.00" y="352.89" width="11.86" height="7.6" fill="#4682B4"/>
<text transform="translate(977.91,95.25) scale(0.650,1)" font-size="10.0" font-weight="bold" fill="#000" text-anchor="start" stroke="#000" stroke-width="0.25">1.429</text>
<text x="1120.90" y="100.90" font-size="8.4" font-weight="bold" fill="#111" stroke="#111" stroke-width="0.25" textLength="19.50" lengthAdjust="spacingAndGlyphs">3.542</text>
<text transform="translate(1040.33,112.95) scale(0.650,1)" font-size="10.0" font-weight="bold" fill="#000" text-anchor="start" stroke="#000" stroke-width="0.25">2.355</text>
<text transform="translate(863.60,103.60) scale(0.590,1)" font-size="11.1" font-weight="bold" fill="#404040" text-anchor="end" stroke="#404040" stroke-width="0.25">Diet High in Red Meat</text>
<text transform="translate(997.46,126.28) scale(0.650,1)" font-size="10.0" font-weight="bold" fill="#000" text-anchor="start" stroke="#000" stroke-width="0.25">1.719</text>
<text transform="translate(1021.86,135.13) scale(0.650,1)" font-size="10.0" font-weight="bold" fill="#000" text-anchor="start" stroke="#000" stroke-width="0.25">2.081</text>
<text transform="translate(1008.78,143.98) scale(0.650,1)" font-size="10.0" font-weight="bold" fill="#000" text-anchor="start" stroke="#000" stroke-width="0.25">1.887</text>
<text transform="translate(863.60,134.63) scale(0.590,1)" font-size="11.1" font-weight="bold" fill="#404040" text-anchor="end" stroke="#404040" stroke-width="0.25">Diet Low in Whole Grains</text>
<text transform="translate(937.27,157.31) scale(0.650,1)" font-size="10.0" font-weight="bold" fill="#000" text-anchor="start" stroke="#000" stroke-width="0.25">0.826</text>
<text transform="translate(1022.53,166.16) scale(0.650,1)" font-size="10.0" font-weight="bold" fill="#000" text-anchor="start" stroke="#000" stroke-width="0.25">2.091</text>
<text transform="translate(976.63,175.01) scale(0.650,1)" font-size="10.0" font-weight="bold" fill="#000" text-anchor="start" stroke="#000" stroke-width="0.25">1.410</text>
<text transform="translate(863.60,165.66) scale(0.590,1)" font-size="11.1" font-weight="bold" fill="#404040" text-anchor="end" stroke="#404040" stroke-width="0.25">Diet Low in Milk</text>
<text transform="translate(974.88,188.34) scale(0.650,1)" font-size="10.0" font-weight="bold" fill="#000" text-anchor="start" stroke="#000" stroke-width="0.25">1.384</text>
<text transform="translate(938.76,197.19) scale(0.650,1)" font-size="10.0" font-weight="bold" fill="#000" text-anchor="start" stroke="#000" stroke-width="0.25">0.848</text>
<text transform="translate(960.59,206.04) scale(0.650,1)" font-size="10.0" font-weight="bold" fill="#000" text-anchor="start" stroke="#000" stroke-width="0.25">1.172</text>
<text transform="translate(863.60,196.69) scale(0.590,1)" font-size="11.1" font-weight="bold" fill="#404040" text-anchor="end" stroke="#404040" stroke-width="0.25">Diet Low in Vegetables</text>
<text transform="translate(964.77,219.37) scale(0.650,1)" font-size="10.0" font-weight="bold" fill="#000" text-anchor="start" stroke="#000" stroke-width="0.25">1.234</text>
<text transform="translate(942.87,228.22) scale(0.650,1)" font-size="10.0" font-weight="bold" fill="#000" text-anchor="start" stroke="#000" stroke-width="0.25">0.909</text>
<text transform="translate(956.08,237.07) scale(0.650,1)" font-size="10.0" font-weight="bold" fill="#000" text-anchor="start" stroke="#000" stroke-width="0.25">1.105</text>
<text transform="translate(863.60,227.72) scale(0.590,1)" font-size="11.1" font-weight="bold" fill="#404040" text-anchor="end" stroke="#404040" stroke-width="0.25">Diet High in Sodium</text>
<text transform="translate(922.85,250.40) scale(0.650,1)" font-size="10.0" font-weight="bold" fill="#000" text-anchor="start" stroke="#000" stroke-width="0.25">0.612</text>
<text transform="translate(974.21,259.25) scale(0.650,1)" font-size="10.0" font-weight="bold" fill="#000" text-anchor="start" stroke="#000" stroke-width="0.25">1.374</text>
<text transform="translate(946.64,268.10) scale(0.650,1)" font-size="10.0" font-weight="bold" fill="#000" text-anchor="start" stroke="#000" stroke-width="0.25">0.965</text>
<text transform="translate(863.60,258.75) scale(0.590,1)" font-size="11.1" font-weight="bold" fill="#404040" text-anchor="end" stroke="#404040" stroke-width="0.25">Diet Low in Calcium</text>
<text transform="translate(953.38,281.43) scale(0.650,1)" font-size="10.0" font-weight="bold" fill="#000" text-anchor="start" stroke="#000" stroke-width="0.25">1.065</text>
<text transform="translate(918.87,290.28) scale(0.650,1)" font-size="10.0" font-weight="bold" fill="#000" text-anchor="start" stroke="#000" stroke-width="0.25">0.553</text>
<text transform="translate(939.16,299.13) scale(0.650,1)" font-size="10.0" font-weight="bold" fill="#000" text-anchor="start" stroke="#000" stroke-width="0.25">0.854</text>
<text transform="translate(863.60,289.78) scale(0.590,1)" font-size="11.1" font-weight="bold" fill="#404040" text-anchor="end" stroke="#404040" stroke-width="0.25">Diet Low in Fruits</text>
<text transform="translate(921.77,312.46) scale(0.650,1)" font-size="10.0" font-weight="bold" fill="#000" text-anchor="start" stroke="#000" stroke-width="0.25">0.596</text>
<text transform="translate(935.52,321.31) scale(0.650,1)" font-size="10.0" font-weight="bold" fill="#000" text-anchor="start" stroke="#000" stroke-width="0.25">0.800</text>
<text transform="translate(928.17,330.16) scale(0.650,1)" font-size="10.0" font-weight="bold" fill="#000" text-anchor="start" stroke="#000" stroke-width="0.25">0.691</text>
<text transform="translate(863.60,320.81) scale(0.590,1)" font-size="11.1" font-weight="bold" fill="#404040" text-anchor="end" stroke="#404040" stroke-width="0.25">Diet High in Processed Meat</text>
<text transform="translate(891.78,343.49) scale(0.650,1)" font-size="10.0" font-weight="bold" fill="#000" text-anchor="start" stroke="#000" stroke-width="0.25">0.151</text>
<text transform="translate(895.42,352.34) scale(0.650,1)" font-size="10.0" font-weight="bold" fill="#000" text-anchor="start" stroke="#000" stroke-width="0.25">0.205</text>
<text transform="translate(893.46,361.19) scale(0.650,1)" font-size="10.0" font-weight="bold" fill="#000" text-anchor="start" stroke="#000" stroke-width="0.25">0.176</text>
<text transform="translate(863.60,351.84) scale(0.590,1)" font-size="11.1" font-weight="bold" fill="#404040" text-anchor="end" stroke="#404040" stroke-width="0.25">Diet Low in Fiber</text>
<text transform="translate(879.00,378.70) scale(0.580,1)" font-size="10.4" font-weight="normal" fill="#666666" text-anchor="middle">0</text>
<text transform="translate(946.40,378.70) scale(0.580,1)" font-size="10.4" font-weight="normal" fill="#666666" text-anchor="middle">1</text>
<text transform="translate(1013.80,378.70) scale(0.580,1)" font-size="10.4" font-weight="normal" fill="#666666" text-anchor="middle">2</text>
<text transform="translate(1081.20,378.70) scale(0.580,1)" font-size="10.4" font-weight="normal" fill="#666666" text-anchor="middle">3</text>
<text transform="translate(998.45,392.00) scale(0.685,1)" font-size="10.4" font-weight="bold" fill="#000" text-anchor="middle" stroke="#000" stroke-width="0.3">Attribution Proportion(%)</text>
<text x="815.00" y="62.90" font-size="12.9" font-weight="bold" fill="#111" stroke="#111" stroke-width="0.4" textLength="322.00" lengthAdjust="spacingAndGlyphs">Attribution Proportion of Dietary Risk Factors to Cancer by Sex in Global Region</text>
<text x="977.80" y="77.80" font-size="9.0" font-weight="bold" fill="#1a1a1a" stroke="#1a1a1a" stroke-width="0.2" textLength="37.10" lengthAdjust="spacingAndGlyphs">1990–1998</text>
<text transform="translate(932.55,424.20) scale(0.600,1)" font-size="11.8" font-weight="bold" fill="#000" text-anchor="start" stroke="#000" stroke-width="0.3">Sex</text>
<rect x="948.45" y="412.00" width="9.5" height="15.5" fill="#4682B4"/>
<text transform="translate(961.85,424.00) scale(0.575,1)" font-size="11.5" font-weight="normal" fill="#333" text-anchor="start" stroke="#333" stroke-width="0.35">Both</text>
<rect x="998.25" y="412.00" width="9.5" height="15.5" fill="#CD5C5C"/>
<text transform="translate(1011.35,424.00) scale(0.575,1)" font-size="11.5" font-weight="normal" fill="#333" text-anchor="start" stroke="#333" stroke-width="0.35">Female</text>
<rect x="1036.65" y="412.00" width="9.5" height="15.5" fill="#FFD700"/>
<text transform="translate(1049.35,424.00) scale(0.575,1)" font-size="11.5" font-weight="normal" fill="#333" text-anchor="start" stroke="#333" stroke-width="0.35">Male</text>
<line x1="1268.80" y1="81.3" x2="1268.80" y2="367.0" stroke="#EEEEEE" stroke-width="1.2"/>
<line x1="1337.20" y1="81.3" x2="1337.20" y2="367.0" stroke="#EEEEEE" stroke-width="1.2"/>
<line x1="1405.60" y1="81.3" x2="1405.60" y2="367.0" stroke="#EEEEEE" stroke-width="1.2"/>
<line x1="1474.00" y1="81.3" x2="1474.00" y2="367.0" stroke="#EEEEEE" stroke-width="1.2"/>
<line x1="1257.3" y1="99.60" x2="1519.6" y2="99.60" stroke="#E3E3E3" stroke-width="1.4"/>
<line x1="1257.3" y1="130.63" x2="1519.6" y2="130.63" stroke="#E3E3E3" stroke-width="1.4"/>
<line x1="1257.3" y1="161.66" x2="1519.6" y2="161.66" stroke="#E3E3E3" stroke-width="1.4"/>
<line x1="1257.3" y1="192.69" x2="1519.6" y2="192.69" stroke="#E3E3E3" stroke-width="1.4"/>
<line x1="1257.3" y1="223.72" x2="1519.6" y2="223.72" stroke="#E3E3E3" stroke-width="1.4"/>
<line x1="1257.3" y1="254.75" x2="1519.6" y2="254.75" stroke="#E3E3E3" stroke-width="1.4"/>
<line x1="1257.3" y1="285.78" x2="1519.6" y2="285.78" stroke="#E3E3E3" stroke-width="1.4"/>
<line x1="1257.3" y1="316.81" x2="1519.6" y2="316.81" stroke="#E3E3E3" stroke-width="1.4"/>
<line x1="1257.3" y1="347.84" x2="1519.6" y2="347.84" stroke="#E3E3E3" stroke-width="1.4"/>
<rect x="1368.73" y="86.45" width="20.12" height="8.6" fill="#fff"/>
<rect x="1507.11" y="93.70" width="22.89" height="8.80" fill="#fff"/>
<rect x="1428.58" y="104.15" width="20.12" height="8.6" fill="#fff"/>
<rect x="1389.46" y="117.48" width="20.12" height="8.6" fill="#fff"/>
<rect x="1407.10" y="126.33" width="20.12" height="8.6" fill="#fff"/>
<rect x="1397.87" y="135.18" width="20.12" height="8.6" fill="#fff"/>
<rect x="1326.53" y="148.51" width="20.12" height="8.6" fill="#fff"/>
<rect x="1407.99" y="157.36" width="20.12" height="8.6" fill="#fff"/>
<rect x="1363.67" y="166.21" width="20.12" height="8.6" fill="#fff"/>
<rect x="1346.43" y="179.54" width="20.12" height="8.6" fill="#fff"/>
<rect x="1323.31" y="188.39" width="20.12" height="8.6" fill="#fff"/>
<rect x="1337.20" y="197.24" width="20.12" height="8.6" fill="#fff"/>
<rect x="1309.09" y="210.57" width="20.12" height="8.6" fill="#fff"/>
<rect x="1358.81" y="219.42" width="20.12" height="8.6" fill="#fff"/>
<rect x="1331.80" y="228.27" width="20.12" height="8.6" fill="#fff"/>
<rect x="1338.77" y="241.60" width="20.12" height="8.6" fill="#fff"/>
<rect x="1310.25" y="250.45" width="20.12" height="8.6" fill="#fff"/>
<rect x="1327.08" y="259.30" width="20.12" height="8.6" fill="#fff"/>
<rect x="1333.44" y="272.63" width="20.12" height="8.6" fill="#fff"/>
<rect x="1305.05" y="281.48" width="20.12" height="8.6" fill="#fff"/>
<rect x="1321.81" y="290.33" width="20.12" height="8.6" fill="#fff"/>
<rect x="1309.16" y="303.66" width="20.12" height="8.6" fill="#fff"/>
<rect x="1320.58" y="312.51" width="20.12" height="8.6" fill="#fff"/>
<rect x="1314.49" y="321.36" width="20.12" height="8.6" fill="#fff"/>
<rect x="1278.44" y="334.69" width="20.12" height="8.6" fill="#fff"/>
<rect x="1281.39" y="343.54" width="20.12" height="8.6" fill="#fff"/>
<rect x="1279.81" y="352.39" width="20.12" height="8.6" fill="#fff"/>
<rect x="1268.80" y="86.95" width="99.93" height="7.6" fill="#FFD700"/>
<rect x="1268.80" y="95.80" width="238.31" height="7.6" fill="#CD5C5C"/>
<rect x="1268.80" y="104.65" width="159.78" height="7.6" fill="#4682B4"/>
<rect x="1268.80" y="117.98" width="120.66" height="7.6" fill="#FFD700"/>
<rect x="1268.80" y="126.83" width="138.30" height="7.6" fill="#CD5C5C"/>
<rect x="1268.80" y="135.68" width="129.07" height="7.6" fill="#4682B4"/>
<rect x="1268.80" y="149.01" width="57.73" height="7.6" fill="#FFD700"/>
<rect x="1268.80" y="157.86" width="139.19" height="7.6" fill="#CD5C5C"/>
<rect x="1268.80" y="166.71" width="94.87" height="7.6" fill="#4682B4"/>
<rect x="1268.80" y="180.04" width="77.63" height="7.6" fill="#FFD700"/>
<rect x="1268.80" y="188.89" width="54.51" height="7.6" fill="#CD5C5C"/>
<rect x="1268.80" y="197.74" width="68.40" height="7.6" fill="#4682B4"/>
<rect x="1268.80" y="211.07" width="40.29" height="7.6" fill="#FFD700"/>
<rect x="1268.80" y="219.92" width="90.01" height="7.6" fill="#CD5C5C"/>
<rect x="1268.80" y="228.77" width="63.00" height="7.6" fill="#4682B4"/>
<rect x="1268.80" y="242.10" width="69.97" height="7.6" fill="#FFD700"/>
<rect x="1268.80" y="250.95" width="41.45" height="7.6" fill="#CD5C5C"/>
<rect x="1268.80" y="259.80" width="58.28" height="7.6" fill="#4682B4"/>
<rect x="1268.80" y="273.13" width="64.64" height="7.6" fill="#FFD700"/>
<rect x="1268.80" y="281.98" width="36.25" height="7.6" fill="#CD5C5C"/>
<rect x="1268.80" y="290.83" width="53.01" height="7.6" fill="#4682B4"/>
<rect x="1268.80" y="304.16" width="40.36" height="7.6" fill="#FFD700"/>
<rect x="1268.80" y="313.01" width="51.78" height="7.6" fill="#CD5C5C"/>
<rect x="1268.80" y="321.86" width="45.69" height="7.6" fill="#4682B4"/>
<rect x="1268.80" y="335.19" width="9.64" height="7.6" fill="#FFD700"/>
<rect x="1268.80" y="344.04" width="12.59" height="7.6" fill="#CD5C5C"/>
<rect x="1268.80" y="352.89" width="11.01" height="7.6" fill="#4682B4"/>
<text transform="translate(1371.33,95.25) scale(0.650,1)" font-size="10.0" font-weight="bold" fill="#000" text-anchor="start" stroke="#000" stroke-width="0.25">1.461</text>
<text x="1509.00" y="101.00" font-size="8.4" font-weight="bold" fill="#111" stroke="#111" stroke-width="0.25" textLength="19.50" lengthAdjust="spacingAndGlyphs">3.484</text>
<text transform="translate(1431.18,112.95) scale(0.650,1)" font-size="10.0" font-weight="bold" fill="#000" text-anchor="start" stroke="#000" stroke-width="0.25">2.336</text>
<text transform="translate(1253.60,103.60) scale(0.590,1)" font-size="11.1" font-weight="bold" fill="#404040" text-anchor="end" stroke="#404040" stroke-width="0.25">Diet High in Red Meat</text>
<text transform="translate(1392.06,126.28) scale(0.650,1)" font-size="10.0" font-weight="bold" fill="#000" text-anchor="start" stroke="#000" stroke-width="0.25">1.764</text>
<text transform="translate(1409.70,135.13) scale(0.650,1)" font-size="10.0" font-weight="bold" fill="#000" text-anchor="start" stroke="#000" stroke-width="0.25">2.022</text>
<text transform="translate(1400.47,143.98) scale(0.650,1)" font-size="10.0" font-weight="bold" fill="#000" text-anchor="start" stroke="#000" stroke-width="0.25">1.887</text>
<text transform="translate(1253.60,134.63) scale(0.590,1)" font-size="11.1" font-weight="bold" fill="#404040" text-anchor="end" stroke="#404040" stroke-width="0.25">Diet Low in Whole Grains</text>
<text transform="translate(1329.13,157.31) scale(0.650,1)" font-size="10.0" font-weight="bold" fill="#000" text-anchor="start" stroke="#000" stroke-width="0.25">0.844</text>
<text transform="translate(1410.59,166.16) scale(0.650,1)" font-size="10.0" font-weight="bold" fill="#000" text-anchor="start" stroke="#000" stroke-width="0.25">2.035</text>
<text transform="translate(1366.27,175.01) scale(0.650,1)" font-size="10.0" font-weight="bold" fill="#000" text-anchor="start" stroke="#000" stroke-width="0.25">1.387</text>
<text transform="translate(1253.60,165.66) scale(0.590,1)" font-size="11.1" font-weight="bold" fill="#404040" text-anchor="end" stroke="#404040" stroke-width="0.25">Diet Low in Milk</text>
<text transform="translate(1349.03,188.34) scale(0.650,1)" font-size="10.0" font-weight="bold" fill="#000" text-anchor="start" stroke="#000" stroke-width="0.25">1.135</text>
<text transform="translate(1325.91,197.19) scale(0.650,1)" font-size="10.0" font-weight="bold" fill="#000" text-anchor="start" stroke="#000" stroke-width="0.25">0.797</text>
<text transform="translate(1339.80,206.04) scale(0.650,1)" font-size="10.0" font-weight="bold" fill="#000" text-anchor="start" stroke="#000" stroke-width="0.25">1.000</text>
<text transform="translate(1253.60,196.69) scale(0.590,1)" font-size="11.1" font-weight="bold" fill="#404040" text-anchor="end" stroke="#404040" stroke-width="0.25">Diet High in Sodium</text>
<text transform="translate(1311.69,219.37) scale(0.650,1)" font-size="10.0" font-weight="bold" fill="#000" text-anchor="start" stroke="#000" stroke-width="0.25">0.589</text>
<text transform="translate(1361.41,228.22) scale(0.650,1)" font-size="10.0" font-weight="bold" fill="#000" text-anchor="start" stroke="#000" stroke-width="0.25">1.316</text>
<text transform="translate(1334.40,237.07) scale(0.650,1)" font-size="10.0" font-weight="bold" fill="#000" text-anchor="start" stroke="#000" stroke-width="0.25">0.921</text>
<text transform="translate(1253.60,227.72) scale(0.590,1)" font-size="11.1" font-weight="bold" fill="#404040" text-anchor="end" stroke="#404040" stroke-width="0.25">Diet Low in Calcium</text>
<text transform="translate(1341.37,250.40) scale(0.650,1)" font-size="10.0" font-weight="bold" fill="#000" text-anchor="start" stroke="#000" stroke-width="0.25">1.023</text>
<text transform="translate(1312.85,259.25) scale(0.650,1)" font-size="10.0" font-weight="bold" fill="#000" text-anchor="start" stroke="#000" stroke-width="0.25">0.606</text>
<text transform="translate(1329.68,268.10) scale(0.650,1)" font-size="10.0" font-weight="bold" fill="#000" text-anchor="start" stroke="#000" stroke-width="0.25">0.852</text>
<text transform="translate(1253.60,258.75) scale(0.590,1)" font-size="11.1" font-weight="bold" fill="#404040" text-anchor="end" stroke="#404040" stroke-width="0.25">Diet Low in Vegetables</text>
<text transform="translate(1336.04,281.43) scale(0.650,1)" font-size="10.0" font-weight="bold" fill="#000" text-anchor="start" stroke="#000" stroke-width="0.25">0.945</text>
<text transform="translate(1307.65,290.28) scale(0.650,1)" font-size="10.0" font-weight="bold" fill="#000" text-anchor="start" stroke="#000" stroke-width="0.25">0.530</text>
<text transform="translate(1324.41,299.13) scale(0.650,1)" font-size="10.0" font-weight="bold" fill="#000" text-anchor="start" stroke="#000" stroke-width="0.25">0.775</text>
<text transform="translate(1253.60,289.78) scale(0.590,1)" font-size="11.1" font-weight="bold" fill="#404040" text-anchor="end" stroke="#404040" stroke-width="0.25">Diet Low in Fruits</text>
<text transform="translate(1311.76,312.46) scale(0.650,1)" font-size="10.0" font-weight="bold" fill="#000" text-anchor="start" stroke="#000" stroke-width="0.25">0.590</text>
<text transform="translate(1323.18,321.31) scale(0.650,1)" font-size="10.0" font-weight="bold" fill="#000" text-anchor="start" stroke="#000" stroke-width="0.25">0.757</text>
<text transform="translate(1317.09,330.16) scale(0.650,1)" font-size="10.0" font-weight="bold" fill="#000" text-anchor="start" stroke="#000" stroke-width="0.25">0.668</text>
<text transform="translate(1253.60,320.81) scale(0.590,1)" font-size="11.1" font-weight="bold" fill="#404040" text-anchor="end" stroke="#404040" stroke-width="0.25">Diet High in Processed Meat</text>
<text transform="translate(1281.04,343.49) scale(0.650,1)" font-size="10.0" font-weight="bold" fill="#000" text-anchor="start" stroke="#000" stroke-width="0.25">0.141</text>
<text transform="translate(1283.99,352.34) scale(0.650,1)" font-size="10.0" font-weight="bold" fill="#000" text-anchor="start" stroke="#000" stroke-width="0.25">0.184</text>
<text transform="translate(1282.41,361.19) scale(0.650,1)" font-size="10.0" font-weight="bold" fill="#000" text-anchor="start" stroke="#000" stroke-width="0.25">0.161</text>
<text transform="translate(1253.60,351.84) scale(0.590,1)" font-size="11.1" font-weight="bold" fill="#404040" text-anchor="end" stroke="#404040" stroke-width="0.25">Diet Low in Fiber</text>
<text transform="translate(1268.80,378.70) scale(0.580,1)" font-size="10.4" font-weight="normal" fill="#666666" text-anchor="middle">0</text>
<text transform="translate(1337.20,378.70) scale(0.580,1)" font-size="10.4" font-weight="normal" fill="#666666" text-anchor="middle">1</text>
<text transform="translate(1405.60,378.70) scale(0.580,1)" font-size="10.4" font-weight="normal" fill="#666666" text-anchor="middle">2</text>
<text transform="translate(1474.00,378.70) scale(0.580,1)" font-size="10.4" font-weight="normal" fill="#666666" text-anchor="middle">3</text>
<text transform="translate(1388.45,392.00) scale(0.685,1)" font-size="10.4" font-weight="bold" fill="#000" text-anchor="middle" stroke="#000" stroke-width="0.3">Attribution Proportion(%)</text>
<text x="1204.70" y="62.90" font-size="12.9" font-weight="bold" fill="#111" stroke="#111" stroke-width="0.4" textLength="322.10" lengthAdjust="spacingAndGlyphs">Attribution Proportion of Dietary Risk Factors to Cancer by Sex in Global Region</text>
<text x="1363.20" y="80.20" font-size="9.0" font-weight="bold" fill="#1a1a1a" stroke="#1a1a1a" stroke-width="0.2" textLength="36.30" lengthAdjust="spacingAndGlyphs">1999–2007</text>
<text transform="translate(1322.55,424.20) scale(0.600,1)" font-size="11.8" font-weight="bold" fill="#000" text-anchor="start" stroke="#000" stroke-width="0.3">Sex</text>
<rect x="1338.45" y="412.00" width="9.5" height="15.5" fill="#4682B4"/>
<text transform="translate(1351.85,424.00) scale(0.575,1)" font-size="11.5" font-weight="normal" fill="#333" text-anchor="start" stroke="#333" stroke-width="0.35">Both</text>
<rect x="1388.25" y="412.00" width="9.5" height="15.5" fill="#CD5C5C"/>
<text transform="translate(1401.35,424.00) scale(0.575,1)" font-size="11.5" font-weight="normal" fill="#333" text-anchor="start" stroke="#333" stroke-width="0.35">Female</text>
<rect x="1426.65" y="412.00" width="9.5" height="15.5" fill="#FFD700"/>
<text transform="translate(1439.35,424.00) scale(0.575,1)" font-size="11.5" font-weight="normal" fill="#333" text-anchor="start" stroke="#333" stroke-width="0.35">Male</text>
<line x1="107.70" y1="491.3" x2="107.70" y2="776.8" stroke="#EEEEEE" stroke-width="1.2"/>
<line x1="198.30" y1="491.3" x2="198.30" y2="776.8" stroke="#EEEEEE" stroke-width="1.2"/>
<line x1="288.90" y1="491.3" x2="288.90" y2="776.8" stroke="#EEEEEE" stroke-width="1.2"/>
<line x1="97.0" y1="510.30" x2="355.4" y2="510.30" stroke="#E3E3E3" stroke-width="1.4"/>
<line x1="97.0" y1="541.30" x2="355.4" y2="541.30" stroke="#E3E3E3" stroke-width="1.4"/>
<line x1="97.0" y1="572.30" x2="355.4" y2="572.30" stroke="#E3E3E3" stroke-width="1.4"/>
<line x1="97.0" y1="603.30" x2="355.4" y2="603.30" stroke="#E3E3E3" stroke-width="1.4"/>
<line x1="97.0" y1="634.30" x2="355.4" y2="634.30" stroke="#E3E3E3" stroke-width="1.4"/>
<line x1="97.0" y1="665.30" x2="355.4" y2="665.30" stroke="#E3E3E3" stroke-width="1.4"/>
<line x1="97.0" y1="696.30" x2="355.4" y2="696.30" stroke="#E3E3E3" stroke-width="1.4"/>
<line x1="97.0" y1="727.30" x2="355.4" y2="727.30" stroke="#E3E3E3" stroke-width="1.4"/>
<line x1="97.0" y1="758.30" x2="355.4" y2="758.30" stroke="#E3E3E3" stroke-width="1.4"/>
<rect x="233.91" y="497.15" width="20.12" height="8.6" fill="#fff"/>
<rect x="343.62" y="506.40" width="21.88" height="9.10" fill="#fff"/>
<rect x="270.87" y="514.85" width="20.12" height="8.6" fill="#fff"/>
<rect x="253.66" y="528.15" width="20.12" height="8.6" fill="#fff"/>
<rect x="265.53" y="537.00" width="20.12" height="8.6" fill="#fff"/>
<rect x="257.10" y="545.85" width="20.12" height="8.6" fill="#fff"/>
<rect x="217.78" y="559.15" width="20.12" height="8.6" fill="#fff"/>
<rect x="310.92" y="568.00" width="20.12" height="8.6" fill="#fff"/>
<rect x="251.75" y="576.85" width="20.12" height="8.6" fill="#fff"/>
<rect x="257.73" y="590.15" width="20.12" height="8.6" fill="#fff"/>
<rect x="221.95" y="599.00" width="20.12" height="8.6" fill="#fff"/>
<rect x="246.14" y="607.85" width="20.12" height="8.6" fill="#fff"/>
<rect x="165.87" y="621.15" width="20.12" height="8.6" fill="#fff"/>
<rect x="217.42" y="630.00" width="20.12" height="8.6" fill="#fff"/>
<rect x="183.53" y="638.85" width="20.12" height="8.6" fill="#fff"/>
<rect x="184.80" y="652.15" width="20.12" height="8.6" fill="#fff"/>
<rect x="168.22" y="661.00" width="20.12" height="8.6" fill="#fff"/>
<rect x="178.46" y="669.85" width="20.12" height="8.6" fill="#fff"/>
<rect x="168.31" y="683.15" width="20.12" height="8.6" fill="#fff"/>
<rect x="139.86" y="692.00" width="20.12" height="8.6" fill="#fff"/>
<rect x="156.62" y="700.85" width="20.12" height="8.6" fill="#fff"/>
<rect x="123.46" y="714.15" width="20.12" height="8.6" fill="#fff"/>
<rect x="127.54" y="723.00" width="20.12" height="8.6" fill="#fff"/>
<rect x="125.00" y="731.85" width="20.12" height="8.6" fill="#fff"/>
<rect x="114.22" y="745.15" width="20.12" height="8.6" fill="#fff"/>
<rect x="116.31" y="754.00" width="20.12" height="8.6" fill="#fff"/>
<rect x="114.95" y="762.85" width="20.12" height="8.6" fill="#fff"/>
<rect x="107.70" y="497.65" width="126.21" height="7.6" fill="#FFD700"/>
<rect x="107.70" y="506.50" width="235.92" height="7.6" fill="#CD5C5C"/>
<rect x="107.70" y="515.35" width="163.17" height="7.6" fill="#4682B4"/>
<rect x="107.70" y="528.65" width="145.96" height="7.6" fill="#FFD700"/>
<rect x="107.70" y="537.50" width="157.83" height="7.6" fill="#CD5C5C"/>
<rect x="107.70" y="546.35" width="149.40" height="7.6" fill="#4682B4"/>
<rect x="107.70" y="559.65" width="110.08" height="7.6" fill="#FFD700"/>
<rect x="107.70" y="568.50" width="203.22" height="7.6" fill="#CD5C5C"/>
<rect x="107.70" y="577.35" width="144.05" height="7.6" fill="#4682B4"/>
<rect x="107.70" y="590.65" width="150.03" height="7.6" fill="#FFD700"/>
<rect x="107.70" y="599.50" width="114.25" height="7.6" fill="#CD5C5C"/>
<rect x="107.70" y="608.35" width="138.44" height="7.6" fill="#4682B4"/>
<rect x="107.70" y="621.65" width="58.17" height="7.6" fill="#FFD700"/>
<rect x="107.70" y="630.50" width="109.72" height="7.6" fill="#CD5C5C"/>
<rect x="107.70" y="639.35" width="75.83" height="7.6" fill="#4682B4"/>
<rect x="107.70" y="652.65" width="77.10" height="7.6" fill="#FFD700"/>
<rect x="107.70" y="661.50" width="60.52" height="7.6" fill="#CD5C5C"/>
<rect x="107.70" y="670.35" width="70.76" height="7.6" fill="#4682B4"/>
<rect x="107.70" y="683.65" width="60.61" height="7.6" fill="#FFD700"/>
<rect x="107.70" y="692.50" width="32.16" height="7.6" fill="#CD5C5C"/>
<rect x="107.70" y="701.35" width="48.92" height="7.6" fill="#4682B4"/>
<rect x="107.70" y="714.65" width="15.76" height="7.6" fill="#FFD700"/>
<rect x="107.70" y="723.50" width="19.84" height="7.6" fill="#CD5C5C"/>
<rect x="107.70" y="732.35" width="17.30" height="7.6" fill="#4682B4"/>
<rect x="107.70" y="745.65" width="6.52" height="7.6" fill="#FFD700"/>
<rect x="107.70" y="754.50" width="8.61" height="7.6" fill="#CD5C5C"/>
<rect x="107.70" y="763.35" width="7.25" height="7.6" fill="#4682B4"/>
<text transform="translate(236.51,505.95) scale(0.650,1)" font-size="10.0" font-weight="bold" fill="#000" text-anchor="start" stroke="#000" stroke-width="0.25">1.393</text>
<text x="344.40" y="514.00" font-size="8.4" font-weight="bold" fill="#111" stroke="#111" stroke-width="0.25" textLength="19.60" lengthAdjust="spacingAndGlyphs">2.604</text>
<text transform="translate(273.47,523.65) scale(0.650,1)" font-size="10.0" font-weight="bold" fill="#000" text-anchor="start" stroke="#000" stroke-width="0.25">1.801</text>
<text transform="translate(93.30,514.30) scale(0.590,1)" font-size="11.1" font-weight="bold" fill="#404040" text-anchor="end" stroke="#404040" stroke-width="0.25">Diet High in Red Meat</text>
<text transform="translate(256.26,536.95) scale(0.650,1)" font-size="10.0" font-weight="bold" fill="#000" text-anchor="start" stroke="#000" stroke-width="0.25">1.611</text>
<text transform="translate(268.13,545.80) scale(0.650,1)" font-size="10.0" font-weight="bold" fill="#000" text-anchor="start" stroke="#000" stroke-width="0.25">1.742</text>
<text transform="translate(259.70,554.65) scale(0.650,1)" font-size="10.0" font-weight="bold" fill="#000" text-anchor="start" stroke="#000" stroke-width="0.25">1.649</text>
<text transform="translate(93.30,545.30) scale(0.590,1)" font-size="11.1" font-weight="bold" fill="#404040" text-anchor="end" stroke="#404040" stroke-width="0.25">Diet Low in Whole Grains</text>
<text transform="translate(220.38,567.95) scale(0.650,1)" font-size="10.0" font-weight="bold" fill="#000" text-anchor="start" stroke="#000" stroke-width="0.25">1.215</text>
<text transform="translate(313.52,576.80) scale(0.650,1)" font-size="10.0" font-weight="bold" fill="#000" text-anchor="start" stroke="#000" stroke-width="0.25">2.243</text>
<text transform="translate(254.35,585.65) scale(0.650,1)" font-size="10.0" font-weight="bold" fill="#000" text-anchor="start" stroke="#000" stroke-width="0.25">1.590</text>
<text transform="translate(93.30,576.30) scale(0.590,1)" font-size="11.1" font-weight="bold" fill="#404040" text-anchor="end" stroke="#404040" stroke-width="0.25">Diet Low in Milk</text>
<text transform="translate(260.33,598.95) scale(0.650,1)" font-size="10.0" font-weight="bold" fill="#000" text-anchor="start" stroke="#000" stroke-width="0.25">1.656</text>
<text transform="translate(224.55,607.80) scale(0.650,1)" font-size="10.0" font-weight="bold" fill="#000" text-anchor="start" stroke="#000" stroke-width="0.25">1.261</text>
<text transform="translate(248.74,616.65) scale(0.650,1)" font-size="10.0" font-weight="bold" fill="#000" text-anchor="start" stroke="#000" stroke-width="0.25">1.528</text>
<text transform="translate(93.30,607.30) scale(0.590,1)" font-size="11.1" font-weight="bold" fill="#404040" text-anchor="end" stroke="#404040" stroke-width="0.25">Diet High in Sodium</text>
<text transform="translate(168.47,629.95) scale(0.650,1)" font-size="10.0" font-weight="bold" fill="#000" text-anchor="start" stroke="#000" stroke-width="0.25">0.642</text>
<text transform="translate(220.02,638.80) scale(0.650,1)" font-size="10.0" font-weight="bold" fill="#000" text-anchor="start" stroke="#000" stroke-width="0.25">1.211</text>
<text transform="translate(186.13,647.65) scale(0.650,1)" font-size="10.0" font-weight="bold" fill="#000" text-anchor="start" stroke="#000" stroke-width="0.25">0.837</text>
<text transform="translate(93.30,638.30) scale(0.590,1)" font-size="11.1" font-weight="bold" fill="#404040" text-anchor="end" stroke="#404040" stroke-width="0.25">Diet Low in Calcium</text>
<text transform="translate(187.40,660.95) scale(0.650,1)" font-size="10.0" font-weight="bold" fill="#000" text-anchor="start" stroke="#000" stroke-width="0.25">0.851</text>
<text transform="translate(170.82,669.80) scale(0.650,1)" font-size="10.0" font-weight="bold" fill="#000" text-anchor="start" stroke="#000" stroke-width="0.25">0.668</text>
<text transform="translate(181.06,678.65) scale(0.650,1)" font-size="10.0" font-weight="bold" fill="#000" text-anchor="start" stroke="#000" stroke-width="0.25">0.781</text>
<text transform="translate(93.30,669.30) scale(0.590,1)" font-size="11.1" font-weight="bold" fill="#404040" text-anchor="end" stroke="#404040" stroke-width="0.25">Diet Low in Fruits</text>
<text transform="translate(170.91,691.95) scale(0.650,1)" font-size="10.0" font-weight="bold" fill="#000" text-anchor="start" stroke="#000" stroke-width="0.25">0.669</text>
<text transform="translate(142.46,700.80) scale(0.650,1)" font-size="10.0" font-weight="bold" fill="#000" text-anchor="start" stroke="#000" stroke-width="0.25">0.355</text>
<text transform="translate(159.22,709.65) scale(0.650,1)" font-size="10.0" font-weight="bold" fill="#000" text-anchor="start" stroke="#000" stroke-width="0.25">0.540</text>
<text transform="translate(93.30,700.30) scale(0.590,1)" font-size="11.1" font-weight="bold" fill="#404040" text-anchor="end" stroke="#404040" stroke-width="0.25">Diet Low in Vegetables</text>
<text transform="translate(126.06,722.95) scale(0.650,1)" font-size="10.0" font-weight="bold" fill="#000" text-anchor="start" stroke="#000" stroke-width="0.25">0.174</text>
<text transform="translate(130.14,731.80) scale(0.650,1)" font-size="10.0" font-weight="bold" fill="#000" text-anchor="start" stroke="#000" stroke-width="0.25">0.219</text>
<text transform="translate(127.60,740.65) scale(0.650,1)" font-size="10.0" font-weight="bold" fill="#000" text-anchor="start" stroke="#000" stroke-width="0.25">0.191</text>
<text transform="translate(93.30,731.30) scale(0.590,1)" font-size="11.1" font-weight="bold" fill="#404040" text-anchor="end" stroke="#404040" stroke-width="0.25">Diet High in Processed Meat</text>
<text transform="translate(116.82,753.95) scale(0.650,1)" font-size="10.0" font-weight="bold" fill="#000" text-anchor="start" stroke="#000" stroke-width="0.25">0.072</text>
<text transform="translate(118.91,762.80) scale(0.650,1)" font-size="10.0" font-weight="bold" fill="#000" text-anchor="start" stroke="#000" stroke-width="0.25">0.095</text>
<text transform="translate(117.55,771.65) scale(0.650,1)" font-size="10.0" font-weight="bold" fill="#000" text-anchor="start" stroke="#000" stroke-width="0.25">0.080</text>
<text transform="translate(93.30,762.30) scale(0.590,1)" font-size="11.1" font-weight="bold" fill="#404040" text-anchor="end" stroke="#404040" stroke-width="0.25">Diet Low in Fiber</text>
<text transform="translate(107.70,789.30) scale(0.580,1)" font-size="10.4" font-weight="normal" fill="#666666" text-anchor="middle">0</text>
<text transform="translate(198.30,789.30) scale(0.580,1)" font-size="10.4" font-weight="normal" fill="#666666" text-anchor="middle">1</text>
<text transform="translate(288.90,789.30) scale(0.580,1)" font-size="10.4" font-weight="normal" fill="#666666" text-anchor="middle">2</text>
<text transform="translate(226.20,802.80) scale(0.685,1)" font-size="10.4" font-weight="bold" fill="#000" text-anchor="middle" stroke="#000" stroke-width="0.3">Attribution Proportion(%)</text>
<text x="45.90" y="473.30" font-size="12.9" font-weight="bold" fill="#111" stroke="#111" stroke-width="0.4" textLength="315.30" lengthAdjust="spacingAndGlyphs">Attribution Proportion of Dietary Risk Factors to Cancer by Sex in China Region</text>
<text x="206.90" y="491.80" font-size="9.0" font-weight="bold" fill="#1a1a1a" stroke="#1a1a1a" stroke-width="0.2" textLength="37.60" lengthAdjust="spacingAndGlyphs">2008–2015</text>
<text transform="translate(160.30,835.00) scale(0.600,1)" font-size="11.8" font-weight="bold" fill="#000" text-anchor="start" stroke="#000" stroke-width="0.3">Sex</text>
<rect x="176.20" y="822.80" width="9.5" height="15.5" fill="#4682B4"/>
<text transform="translate(189.60,834.80) scale(0.575,1)" font-size="11.5" font-weight="normal" fill="#333" text-anchor="start" stroke="#333" stroke-width="0.35">Both</text>
<rect x="226.00" y="822.80" width="9.5" height="15.5" fill="#CD5C5C"/>
<text transform="translate(239.10,834.80) scale(0.575,1)" font-size="11.5" font-weight="normal" fill="#333" text-anchor="start" stroke="#333" stroke-width="0.35">Female</text>
<rect x="264.40" y="822.80" width="9.5" height="15.5" fill="#FFD700"/>
<text transform="translate(277.10,834.80) scale(0.575,1)" font-size="11.5" font-weight="normal" fill="#333" text-anchor="start" stroke="#333" stroke-width="0.35">Male</text>
<line x1="492.40" y1="491.3" x2="492.40" y2="776.8" stroke="#EEEEEE" stroke-width="1.2"/>
<line x1="579.00" y1="491.3" x2="579.00" y2="776.8" stroke="#EEEEEE" stroke-width="1.2"/>
<line x1="665.60" y1="491.3" x2="665.60" y2="776.8" stroke="#EEEEEE" stroke-width="1.2"/>
<line x1="481.0" y1="510.30" x2="740.4" y2="510.30" stroke="#E3E3E3" stroke-width="1.4"/>
<line x1="481.0" y1="541.30" x2="740.4" y2="541.30" stroke="#E3E3E3" stroke-width="1.4"/>
<line x1="481.0" y1="572.30" x2="740.4" y2="572.30" stroke="#E3E3E3" stroke-width="1.4"/>
<line x1="481.0" y1="603.30" x2="740.4" y2="603.30" stroke="#E3E3E3" stroke-width="1.4"/>
<line x1="481.0" y1="634.30" x2="740.4" y2="634.30" stroke="#E3E3E3" stroke-width="1.4"/>
<line x1="481.0" y1="665.30" x2="740.4" y2="665.30" stroke="#E3E3E3" stroke-width="1.4"/>
<line x1="481.0" y1="696.30" x2="740.4" y2="696.30" stroke="#E3E3E3" stroke-width="1.4"/>
<line x1="481.0" y1="727.30" x2="740.4" y2="727.30" stroke="#E3E3E3" stroke-width="1.4"/>
<line x1="481.0" y1="758.30" x2="740.4" y2="758.30" stroke="#E3E3E3" stroke-width="1.4"/>
<rect x="626.37" y="497.15" width="20.12" height="8.6" fill="#fff"/>
<rect x="728.56" y="504.80" width="22.04" height="9.10" fill="#fff"/>
<rect x="661.70" y="514.85" width="20.12" height="8.6" fill="#fff"/>
<rect x="644.82" y="528.15" width="20.12" height="8.6" fill="#fff"/>
<rect x="647.15" y="537.00" width="20.12" height="8.6" fill="#fff"/>
<rect x="645.08" y="545.85" width="20.12" height="8.6" fill="#fff"/>
<rect x="608.27" y="559.15" width="20.12" height="8.6" fill="#fff"/>
<rect x="692.19" y="568.00" width="20.12" height="8.6" fill="#fff"/>
<rect x="639.62" y="576.85" width="20.12" height="8.6" fill="#fff"/>
<rect x="619.18" y="590.15" width="20.12" height="8.6" fill="#fff"/>
<rect x="587.31" y="599.00" width="20.12" height="8.6" fill="#fff"/>
<rect x="608.44" y="607.85" width="20.12" height="8.6" fill="#fff"/>
<rect x="538.21" y="621.15" width="20.12" height="8.6" fill="#fff"/>
<rect x="590.78" y="630.00" width="20.12" height="8.6" fill="#fff"/>
<rect x="556.92" y="638.85" width="20.12" height="8.6" fill="#fff"/>
<rect x="557.78" y="652.15" width="20.12" height="8.6" fill="#fff"/>
<rect x="544.19" y="661.00" width="20.12" height="8.6" fill="#fff"/>
<rect x="552.59" y="669.85" width="20.12" height="8.6" fill="#fff"/>
<rect x="527.99" y="683.15" width="20.12" height="8.6" fill="#fff"/>
<rect x="509.37" y="692.00" width="20.12" height="8.6" fill="#fff"/>
<rect x="520.20" y="700.85" width="20.12" height="8.6" fill="#fff"/>
<rect x="510.59" y="714.15" width="20.12" height="8.6" fill="#fff"/>
<rect x="514.22" y="723.00" width="20.12" height="8.6" fill="#fff"/>
<rect x="512.06" y="731.85" width="20.12" height="8.6" fill="#fff"/>
<rect x="497.68" y="745.15" width="20.12" height="8.6" fill="#fff"/>
<rect x="498.89" y="754.00" width="20.12" height="8.6" fill="#fff"/>
<rect x="498.12" y="762.85" width="20.12" height="8.6" fill="#fff"/>
<rect x="492.40" y="497.65" width="133.97" height="7.6" fill="#FFD700"/>
<rect x="492.40" y="506.50" width="236.16" height="7.6" fill="#CD5C5C"/>
<rect x="492.40" y="515.35" width="169.30" height="7.6" fill="#4682B4"/>
<rect x="492.40" y="528.65" width="152.42" height="7.6" fill="#FFD700"/>
<rect x="492.40" y="537.50" width="154.75" height="7.6" fill="#CD5C5C"/>
<rect x="492.40" y="546.35" width="152.68" height="7.6" fill="#4682B4"/>
<rect x="492.40" y="559.65" width="115.87" height="7.6" fill="#FFD700"/>
<rect x="492.40" y="568.50" width="199.79" height="7.6" fill="#CD5C5C"/>
<rect x="492.40" y="577.35" width="147.22" height="7.6" fill="#4682B4"/>
<rect x="492.40" y="590.65" width="126.78" height="7.6" fill="#FFD700"/>
<rect x="492.40" y="599.50" width="94.91" height="7.6" fill="#CD5C5C"/>
<rect x="492.40" y="608.35" width="116.04" height="7.6" fill="#4682B4"/>
<rect x="492.40" y="621.65" width="45.81" height="7.6" fill="#FFD700"/>
<rect x="492.40" y="630.50" width="98.38" height="7.6" fill="#CD5C5C"/>
<rect x="492.40" y="639.35" width="64.52" height="7.6" fill="#4682B4"/>
<rect x="492.40" y="652.65" width="65.38" height="7.6" fill="#FFD700"/>
<rect x="492.40" y="661.50" width="51.79" height="7.6" fill="#CD5C5C"/>
<rect x="492.40" y="670.35" width="60.19" height="7.6" fill="#4682B4"/>
<rect x="492.40" y="683.65" width="35.59" height="7.6" fill="#FFD700"/>
<rect x="492.40" y="692.50" width="16.97" height="7.6" fill="#CD5C5C"/>
<rect x="492.40" y="701.35" width="27.80" height="7.6" fill="#4682B4"/>
<rect x="492.40" y="714.65" width="18.19" height="7.6" fill="#FFD700"/>
<rect x="492.40" y="723.50" width="21.82" height="7.6" fill="#CD5C5C"/>
<rect x="492.40" y="732.35" width="19.66" height="7.6" fill="#4682B4"/>
<rect x="492.40" y="745.65" width="5.28" height="7.6" fill="#FFD700"/>
<rect x="492.40" y="754.50" width="6.49" height="7.6" fill="#CD5C5C"/>
<rect x="492.40" y="763.35" width="5.72" height="7.6" fill="#4682B4"/>
<text transform="translate(628.97,505.95) scale(0.650,1)" font-size="10.0" font-weight="bold" fill="#000" text-anchor="start" stroke="#000" stroke-width="0.25">1.547</text>
<text x="729.50" y="512.40" font-size="8.4" font-weight="bold" fill="#111" stroke="#111" stroke-width="0.25" textLength="19.60" lengthAdjust="spacingAndGlyphs">2.727</text>
<text transform="translate(664.30,523.65) scale(0.650,1)" font-size="10.0" font-weight="bold" fill="#000" text-anchor="start" stroke="#000" stroke-width="0.25">1.955</text>
<text transform="translate(478.30,514.30) scale(0.590,1)" font-size="11.1" font-weight="bold" fill="#404040" text-anchor="end" stroke="#404040" stroke-width="0.25">Diet High in Red Meat</text>
<text transform="translate(647.42,536.95) scale(0.650,1)" font-size="10.0" font-weight="bold" fill="#000" text-anchor="start" stroke="#000" stroke-width="0.25">1.760</text>
<text transform="translate(649.75,545.80) scale(0.650,1)" font-size="10.0" font-weight="bold" fill="#000" text-anchor="start" stroke="#000" stroke-width="0.25">1.787</text>
<text transform="translate(647.68,554.65) scale(0.650,1)" font-size="10.0" font-weight="bold" fill="#000" text-anchor="start" stroke="#000" stroke-width="0.25">1.763</text>
<text transform="translate(478.30,545.30) scale(0.590,1)" font-size="11.1" font-weight="bold" fill="#404040" text-anchor="end" stroke="#404040" stroke-width="0.25">Diet Low in Whole Grains</text>
<text transform="translate(610.87,567.95) scale(0.650,1)" font-size="10.0" font-weight="bold" fill="#000" text-anchor="start" stroke="#000" stroke-width="0.25">1.338</text>
<text transform="translate(694.79,576.80) scale(0.650,1)" font-size="10.0" font-weight="bold" fill="#000" text-anchor="start" stroke="#000" stroke-width="0.25">2.307</text>
<text transform="translate(642.22,585.65) scale(0.650,1)" font-size="10.0" font-weight="bold" fill="#000" text-anchor="start" stroke="#000" stroke-width="0.25">1.700</text>
<text transform="translate(478.30,576.30) scale(0.590,1)" font-size="11.1" font-weight="bold" fill="#404040" text-anchor="end" stroke="#404040" stroke-width="0.25">Diet Low in Milk</text>
<text transform="translate(621.78,598.95) scale(0.650,1)" font-size="10.0" font-weight="bold" fill="#000" text-anchor="start" stroke="#000" stroke-width="0.25">1.464</text>
<text transform="translate(589.91,607.80) scale(0.650,1)" font-size="10.0" font-weight="bold" fill="#000" text-anchor="start" stroke="#000" stroke-width="0.25">1.096</text>
<text transform="translate(611.04,616.65) scale(0.650,1)" font-size="10.0" font-weight="bold" fill="#000" text-anchor="start" stroke="#000" stroke-width="0.25">1.340</text>
<text transform="translate(478.30,607.30) scale(0.590,1)" font-size="11.1" font-weight="bold" fill="#404040" text-anchor="end" stroke="#404040" stroke-width="0.25">Diet High in Sodium</text>
<text transform="translate(540.81,629.95) scale(0.650,1)" font-size="10.0" font-weight="bold" fill="#000" text-anchor="start" stroke="#000" stroke-width="0.25">0.529</text>
<text transform="translate(593.38,638.80) scale(0.650,1)" font-size="10.0" font-weight="bold" fill="#000" text-anchor="start" stroke="#000" stroke-width="0.25">1.136</text>
<text transform="translate(559.52,647.65) scale(0.650,1)" font-size="10.0" font-weight="bold" fill="#000" text-anchor="start" stroke="#000" stroke-width="0.25">0.745</text>
<text transform="translate(478.30,638.30) scale(0.590,1)" font-size="11.1" font-weight="bold" fill="#404040" text-anchor="end" stroke="#404040" stroke-width="0.25">Diet Low in Calcium</text>
<text transform="translate(560.38,660.95) scale(0.650,1)" font-size="10.0" font-weight="bold" fill="#000" text-anchor="start" stroke="#000" stroke-width="0.25">0.755</text>
<text transform="translate(546.79,669.80) scale(0.650,1)" font-size="10.0" font-weight="bold" fill="#000" text-anchor="start" stroke="#000" stroke-width="0.25">0.598</text>
<text transform="translate(555.19,678.65) scale(0.650,1)" font-size="10.0" font-weight="bold" fill="#000" text-anchor="start" stroke="#000" stroke-width="0.25">0.695</text>
<text transform="translate(478.30,669.30) scale(0.590,1)" font-size="11.1" font-weight="bold" fill="#404040" text-anchor="end" stroke="#404040" stroke-width="0.25">Diet Low in Fruits</text>
<text transform="translate(530.59,691.95) scale(0.650,1)" font-size="10.0" font-weight="bold" fill="#000" text-anchor="start" stroke="#000" stroke-width="0.25">0.411</text>
<text transform="translate(511.97,700.80) scale(0.650,1)" font-size="10.0" font-weight="bold" fill="#000" text-anchor="start" stroke="#000" stroke-width="0.25">0.196</text>
<text transform="translate(522.80,709.65) scale(0.650,1)" font-size="10.0" font-weight="bold" fill="#000" text-anchor="start" stroke="#000" stroke-width="0.25">0.321</text>
<text transform="translate(478.30,700.30) scale(0.590,1)" font-size="11.1" font-weight="bold" fill="#404040" text-anchor="end" stroke="#404040" stroke-width="0.25">Diet Low in Vegetables</text>
<text transform="translate(513.19,722.95) scale(0.650,1)" font-size="10.0" font-weight="bold" fill="#000" text-anchor="start" stroke="#000" stroke-width="0.25">0.210</text>
<text transform="translate(516.82,731.80) scale(0.650,1)" font-size="10.0" font-weight="bold" fill="#000" text-anchor="start" stroke="#000" stroke-width="0.25">0.252</text>
<text transform="translate(514.66,740.65) scale(0.650,1)" font-size="10.0" font-weight="bold" fill="#000" text-anchor="start" stroke="#000" stroke-width="0.25">0.227</text>
<text transform="translate(478.30,731.30) scale(0.590,1)" font-size="11.1" font-weight="bold" fill="#404040" text-anchor="end" stroke="#404040" stroke-width="0.25">Diet High in Processed Meat</text>
<text transform="translate(500.28,753.95) scale(0.650,1)" font-size="10.0" font-weight="bold" fill="#000" text-anchor="start" stroke="#000" stroke-width="0.25">0.061</text>
<text transform="translate(501.50,762.80) scale(0.650,1)" font-size="10.0" font-weight="bold" fill="#000" text-anchor="start" stroke="#000" stroke-width="0.25">0.075</text>
<text transform="translate(500.72,771.65) scale(0.650,1)" font-size="10.0" font-weight="bold" fill="#000" text-anchor="start" stroke="#000" stroke-width="0.25">0.066</text>
<text transform="translate(478.30,762.30) scale(0.590,1)" font-size="11.1" font-weight="bold" fill="#404040" text-anchor="end" stroke="#404040" stroke-width="0.25">Diet Low in Fiber</text>
<text transform="translate(492.40,789.30) scale(0.580,1)" font-size="10.4" font-weight="normal" fill="#666666" text-anchor="middle">0</text>
<text transform="translate(579.00,789.30) scale(0.580,1)" font-size="10.4" font-weight="normal" fill="#666666" text-anchor="middle">1</text>
<text transform="translate(665.60,789.30) scale(0.580,1)" font-size="10.4" font-weight="normal" fill="#666666" text-anchor="middle">2</text>
<text transform="translate(610.70,802.80) scale(0.685,1)" font-size="10.4" font-weight="bold" fill="#000" text-anchor="middle" stroke="#000" stroke-width="0.3">Attribution Proportion(%)</text>
<text x="431.10" y="473.30" font-size="12.9" font-weight="bold" fill="#111" stroke="#111" stroke-width="0.4" textLength="314.80" lengthAdjust="spacingAndGlyphs">Attribution Proportion of Dietary Risk Factors to Cancer by Sex in China Region</text>
<text x="576.00" y="485.00" font-size="9.0" font-weight="bold" fill="#1a1a1a" stroke="#1a1a1a" stroke-width="0.2" textLength="36.90" lengthAdjust="spacingAndGlyphs">2016–2021</text>
<text transform="translate(544.80,835.00) scale(0.600,1)" font-size="11.8" font-weight="bold" fill="#000" text-anchor="start" stroke="#000" stroke-width="0.3">Sex</text>
<rect x="560.70" y="822.80" width="9.5" height="15.5" fill="#4682B4"/>
<text transform="translate(574.10,834.80) scale(0.575,1)" font-size="11.5" font-weight="normal" fill="#333" text-anchor="start" stroke="#333" stroke-width="0.35">Both</text>
<rect x="610.50" y="822.80" width="9.5" height="15.5" fill="#CD5C5C"/>
<text transform="translate(623.60,834.80) scale(0.575,1)" font-size="11.5" font-weight="normal" fill="#333" text-anchor="start" stroke="#333" stroke-width="0.35">Female</text>
<rect x="648.90" y="822.80" width="9.5" height="15.5" fill="#FFD700"/>
<text transform="translate(661.60,834.80) scale(0.575,1)" font-size="11.5" font-weight="normal" fill="#333" text-anchor="start" stroke="#333" stroke-width="0.35">Male</text>
<line x1="879.00" y1="491.3" x2="879.00" y2="776.8" stroke="#EEEEEE" stroke-width="1.2"/>
<line x1="948.07" y1="491.3" x2="948.07" y2="776.8" stroke="#EEEEEE" stroke-width="1.2"/>
<line x1="1017.14" y1="491.3" x2="1017.14" y2="776.8" stroke="#EEEEEE" stroke-width="1.2"/>
<line x1="1086.21" y1="491.3" x2="1086.21" y2="776.8" stroke="#EEEEEE" stroke-width="1.2"/>
<line x1="867.3" y1="510.30" x2="1129.6" y2="510.30" stroke="#E3E3E3" stroke-width="1.4"/>
<line x1="867.3" y1="541.30" x2="1129.6" y2="541.30" stroke="#E3E3E3" stroke-width="1.4"/>
<line x1="867.3" y1="572.30" x2="1129.6" y2="572.30" stroke="#E3E3E3" stroke-width="1.4"/>
<line x1="867.3" y1="603.30" x2="1129.6" y2="603.30" stroke="#E3E3E3" stroke-width="1.4"/>
<line x1="867.3" y1="634.30" x2="1129.6" y2="634.30" stroke="#E3E3E3" stroke-width="1.4"/>
<line x1="867.3" y1="665.30" x2="1129.6" y2="665.30" stroke="#E3E3E3" stroke-width="1.4"/>
<line x1="867.3" y1="696.30" x2="1129.6" y2="696.30" stroke="#E3E3E3" stroke-width="1.4"/>
<line x1="867.3" y1="727.30" x2="1129.6" y2="727.30" stroke="#E3E3E3" stroke-width="1.4"/>
<line x1="867.3" y1="758.30" x2="1129.6" y2="758.30" stroke="#E3E3E3" stroke-width="1.4"/>
<rect x="984.26" y="497.15" width="20.12" height="8.6" fill="#fff"/>
<rect x="1117.71" y="504.60" width="22.49" height="8.90" fill="#fff"/>
<rect x="1041.45" y="514.85" width="20.12" height="8.6" fill="#fff"/>
<rect x="1005.33" y="528.15" width="20.12" height="8.6" fill="#fff"/>
<rect x="1014.17" y="537.00" width="20.12" height="8.6" fill="#fff"/>
<rect x="1009.89" y="545.85" width="20.12" height="8.6" fill="#fff"/>
<rect x="943.03" y="559.15" width="20.12" height="8.6" fill="#fff"/>
<rect x="1018.94" y="568.00" width="20.12" height="8.6" fill="#fff"/>
<rect x="977.36" y="576.85" width="20.12" height="8.6" fill="#fff"/>
<rect x="918.02" y="590.15" width="20.12" height="8.6" fill="#fff"/>
<rect x="965.61" y="599.00" width="20.12" height="8.6" fill="#fff"/>
<rect x="939.51" y="607.85" width="20.12" height="8.6" fill="#fff"/>
<rect x="948.28" y="621.15" width="20.12" height="8.6" fill="#fff"/>
<rect x="925.00" y="630.00" width="20.12" height="8.6" fill="#fff"/>
<rect x="938.88" y="638.85" width="20.12" height="8.6" fill="#fff"/>
<rect x="936.67" y="652.15" width="20.12" height="8.6" fill="#fff"/>
<rect x="913.47" y="661.00" width="20.12" height="8.6" fill="#fff"/>
<rect x="927.21" y="669.85" width="20.12" height="8.6" fill="#fff"/>
<rect x="919.20" y="683.15" width="20.12" height="8.6" fill="#fff"/>
<rect x="927.42" y="692.00" width="20.12" height="8.6" fill="#fff"/>
<rect x="923.07" y="700.85" width="20.12" height="8.6" fill="#fff"/>
<rect x="931.29" y="714.15" width="20.12" height="8.6" fill="#fff"/>
<rect x="910.08" y="723.00" width="20.12" height="8.6" fill="#fff"/>
<rect x="922.51" y="731.85" width="20.12" height="8.6" fill="#fff"/>
<rect x="888.19" y="745.15" width="20.12" height="8.6" fill="#fff"/>
<rect x="890.33" y="754.00" width="20.12" height="8.6" fill="#fff"/>
<rect x="889.15" y="762.85" width="20.12" height="8.6" fill="#fff"/>
<rect x="879.00" y="497.65" width="105.26" height="7.6" fill="#FFD700"/>
<rect x="879.00" y="506.50" width="238.71" height="7.6" fill="#CD5C5C"/>
<rect x="879.00" y="515.35" width="162.45" height="7.6" fill="#4682B4"/>
<rect x="879.00" y="528.65" width="126.33" height="7.6" fill="#FFD700"/>
<rect x="879.00" y="537.50" width="135.17" height="7.6" fill="#CD5C5C"/>
<rect x="879.00" y="546.35" width="130.89" height="7.6" fill="#4682B4"/>
<rect x="879.00" y="559.65" width="64.03" height="7.6" fill="#FFD700"/>
<rect x="879.00" y="568.50" width="139.94" height="7.6" fill="#CD5C5C"/>
<rect x="879.00" y="577.35" width="98.36" height="7.6" fill="#4682B4"/>
<rect x="879.00" y="590.65" width="39.02" height="7.6" fill="#FFD700"/>
<rect x="879.00" y="599.50" width="86.61" height="7.6" fill="#CD5C5C"/>
<rect x="879.00" y="608.35" width="60.51" height="7.6" fill="#4682B4"/>
<rect x="879.00" y="621.65" width="69.28" height="7.6" fill="#FFD700"/>
<rect x="879.00" y="630.50" width="46.00" height="7.6" fill="#CD5C5C"/>
<rect x="879.00" y="639.35" width="59.88" height="7.6" fill="#4682B4"/>
<rect x="879.00" y="652.65" width="57.67" height="7.6" fill="#FFD700"/>
<rect x="879.00" y="661.50" width="34.47" height="7.6" fill="#CD5C5C"/>
<rect x="879.00" y="670.35" width="48.21" height="7.6" fill="#4682B4"/>
<rect x="879.00" y="683.65" width="40.20" height="7.6" fill="#FFD700"/>
<rect x="879.00" y="692.50" width="48.42" height="7.6" fill="#CD5C5C"/>
<rect x="879.00" y="701.35" width="44.07" height="7.6" fill="#4682B4"/>
<rect x="879.00" y="714.65" width="52.29" height="7.6" fill="#FFD700"/>
<rect x="879.00" y="723.50" width="31.08" height="7.6" fill="#CD5C5C"/>
<rect x="879.00" y="732.35" width="43.51" height="7.6" fill="#4682B4"/>
<rect x="879.00" y="745.65" width="9.19" height="7.6" fill="#FFD700"/>
<rect x="879.00" y="754.50" width="11.33" height="7.6" fill="#CD5C5C"/>
<rect x="879.00" y="763.35" width="10.15" height="7.6" fill="#4682B4"/>
<text transform="translate(986.86,505.95) scale(0.650,1)" font-size="10.0" font-weight="bold" fill="#000" text-anchor="start" stroke="#000" stroke-width="0.25">1.524</text>
<text x="1118.80" y="512.00" font-size="8.4" font-weight="bold" fill="#111" stroke="#111" stroke-width="0.25" textLength="19.90" lengthAdjust="spacingAndGlyphs">3.456</text>
<text transform="translate(1044.05,523.65) scale(0.650,1)" font-size="10.0" font-weight="bold" fill="#000" text-anchor="start" stroke="#000" stroke-width="0.25">2.352</text>
<text transform="translate(863.60,514.30) scale(0.590,1)" font-size="11.1" font-weight="bold" fill="#404040" text-anchor="end" stroke="#404040" stroke-width="0.25">Diet High in Red Meat</text>
<text transform="translate(1007.93,536.95) scale(0.650,1)" font-size="10.0" font-weight="bold" fill="#000" text-anchor="start" stroke="#000" stroke-width="0.25">1.829</text>
<text transform="translate(1016.77,545.80) scale(0.650,1)" font-size="10.0" font-weight="bold" fill="#000" text-anchor="start" stroke="#000" stroke-width="0.25">1.957</text>
<text transform="translate(1012.49,554.65) scale(0.650,1)" font-size="10.0" font-weight="bold" fill="#000" text-anchor="start" stroke="#000" stroke-width="0.25">1.895</text>
<text transform="translate(863.60,545.30) scale(0.590,1)" font-size="11.1" font-weight="bold" fill="#404040" text-anchor="end" stroke="#404040" stroke-width="0.25">Diet Low in Whole Grains</text>
<text transform="translate(945.63,567.95) scale(0.650,1)" font-size="10.0" font-weight="bold" fill="#000" text-anchor="start" stroke="#000" stroke-width="0.25">0.927</text>
<text transform="translate(1021.54,576.80) scale(0.650,1)" font-size="10.0" font-weight="bold" fill="#000" text-anchor="start" stroke="#000" stroke-width="0.25">2.026</text>
<text transform="translate(979.96,585.65) scale(0.650,1)" font-size="10.0" font-weight="bold" fill="#000" text-anchor="start" stroke="#000" stroke-width="0.25">1.424</text>
<text transform="translate(863.60,576.30) scale(0.590,1)" font-size="11.1" font-weight="bold" fill="#404040" text-anchor="end" stroke="#404040" stroke-width="0.25">Diet Low in Milk</text>
<text transform="translate(920.62,598.95) scale(0.650,1)" font-size="10.0" font-weight="bold" fill="#000" text-anchor="start" stroke="#000" stroke-width="0.25">0.565</text>
<text transform="translate(968.21,607.80) scale(0.650,1)" font-size="10.0" font-weight="bold" fill="#000" text-anchor="start" stroke="#000" stroke-width="0.25">1.254</text>
<text transform="translate(942.11,616.65) scale(0.650,1)" font-size="10.0" font-weight="bold" fill="#000" text-anchor="start" stroke="#000" stroke-width="0.25">0.876</text>
<text transform="translate(863.60,607.30) scale(0.590,1)" font-size="11.1" font-weight="bold" fill="#404040" text-anchor="end" stroke="#404040" stroke-width="0.25">Diet Low in Calcium</text>
<text transform="translate(950.88,629.95) scale(0.650,1)" font-size="10.0" font-weight="bold" fill="#000" text-anchor="start" stroke="#000" stroke-width="0.25">1.003</text>
<text transform="translate(927.60,638.80) scale(0.650,1)" font-size="10.0" font-weight="bold" fill="#000" text-anchor="start" stroke="#000" stroke-width="0.25">0.666</text>
<text transform="translate(941.48,647.65) scale(0.650,1)" font-size="10.0" font-weight="bold" fill="#000" text-anchor="start" stroke="#000" stroke-width="0.25">0.867</text>
<text transform="translate(863.60,638.30) scale(0.590,1)" font-size="11.1" font-weight="bold" fill="#404040" text-anchor="end" stroke="#404040" stroke-width="0.25">Diet High in Sodium</text>
<text transform="translate(939.27,660.95) scale(0.650,1)" font-size="10.0" font-weight="bold" fill="#000" text-anchor="start" stroke="#000" stroke-width="0.25">0.835</text>
<text transform="translate(916.07,669.80) scale(0.650,1)" font-size="10.0" font-weight="bold" fill="#000" text-anchor="start" stroke="#000" stroke-width="0.25">0.499</text>
<text transform="translate(929.81,678.65) scale(0.650,1)" font-size="10.0" font-weight="bold" fill="#000" text-anchor="start" stroke="#000" stroke-width="0.25">0.698</text>
<text transform="translate(863.60,669.30) scale(0.590,1)" font-size="11.1" font-weight="bold" fill="#404040" text-anchor="end" stroke="#404040" stroke-width="0.25">Diet Low in Fruits</text>
<text transform="translate(921.80,691.95) scale(0.650,1)" font-size="10.0" font-weight="bold" fill="#000" text-anchor="start" stroke="#000" stroke-width="0.25">0.582</text>
<text transform="translate(930.02,700.80) scale(0.650,1)" font-size="10.0" font-weight="bold" fill="#000" text-anchor="start" stroke="#000" stroke-width="0.25">0.701</text>
<text transform="translate(925.67,709.65) scale(0.650,1)" font-size="10.0" font-weight="bold" fill="#000" text-anchor="start" stroke="#000" stroke-width="0.25">0.638</text>
<text transform="translate(863.60,700.30) scale(0.590,1)" font-size="11.1" font-weight="bold" fill="#404040" text-anchor="end" stroke="#404040" stroke-width="0.25">Diet High in Processed Meat</text>
<text transform="translate(933.89,722.95) scale(0.650,1)" font-size="10.0" font-weight="bold" fill="#000" text-anchor="start" stroke="#000" stroke-width="0.25">0.757</text>
<text transform="translate(912.68,731.80) scale(0.650,1)" font-size="10.0" font-weight="bold" fill="#000" text-anchor="start" stroke="#000" stroke-width="0.25">0.450</text>
<text transform="translate(925.11,740.65) scale(0.650,1)" font-size="10.0" font-weight="bold" fill="#000" text-anchor="start" stroke="#000" stroke-width="0.25">0.630</text>
<text transform="translate(863.60,731.30) scale(0.590,1)" font-size="11.1" font-weight="bold" fill="#404040" text-anchor="end" stroke="#404040" stroke-width="0.25">Diet Low in Vegetables</text>
<text transform="translate(890.79,753.95) scale(0.650,1)" font-size="10.0" font-weight="bold" fill="#000" text-anchor="start" stroke="#000" stroke-width="0.25">0.133</text>
<text transform="translate(892.93,762.80) scale(0.650,1)" font-size="10.0" font-weight="bold" fill="#000" text-anchor="start" stroke="#000" stroke-width="0.25">0.164</text>
<text transform="translate(891.75,771.65) scale(0.650,1)" font-size="10.0" font-weight="bold" fill="#000" text-anchor="start" stroke="#000" stroke-width="0.25">0.147</text>
<text transform="translate(863.60,762.30) scale(0.590,1)" font-size="11.1" font-weight="bold" fill="#404040" text-anchor="end" stroke="#404040" stroke-width="0.25">Diet Low in Fiber</text>
<text transform="translate(879.00,789.30) scale(0.580,1)" font-size="10.4" font-weight="normal" fill="#666666" text-anchor="middle">0</text>
<text transform="translate(948.07,789.30) scale(0.580,1)" font-size="10.4" font-weight="normal" fill="#666666" text-anchor="middle">1</text>
<text transform="translate(1017.14,789.30) scale(0.580,1)" font-size="10.4" font-weight="normal" fill="#666666" text-anchor="middle">2</text>
<text transform="translate(1086.21,789.30) scale(0.580,1)" font-size="10.4" font-weight="normal" fill="#666666" text-anchor="middle">3</text>
<text transform="translate(998.45,802.80) scale(0.685,1)" font-size="10.4" font-weight="bold" fill="#000" text-anchor="middle" stroke="#000" stroke-width="0.3">Attribution Proportion(%)</text>
<text x="815.00" y="473.30" font-size="12.9" font-weight="bold" fill="#111" stroke="#111" stroke-width="0.4" textLength="322.00" lengthAdjust="spacingAndGlyphs">Attribution Proportion of Dietary Risk Factors to Cancer by Sex in Global Region</text>
<text x="972.10" y="490.70" font-size="9.0" font-weight="bold" fill="#1a1a1a" stroke="#1a1a1a" stroke-width="0.2" textLength="37.80" lengthAdjust="spacingAndGlyphs">2008–2015</text>
<text transform="translate(932.55,835.00) scale(0.600,1)" font-size="11.8" font-weight="bold" fill="#000" text-anchor="start" stroke="#000" stroke-width="0.3">Sex</text>
<rect x="948.45" y="822.80" width="9.5" height="15.5" fill="#4682B4"/>
<text transform="translate(961.85,834.80) scale(0.575,1)" font-size="11.5" font-weight="normal" fill="#333" text-anchor="start" stroke="#333" stroke-width="0.35">Both</text>
<rect x="998.25" y="822.80" width="9.5" height="15.5" fill="#CD5C5C"/>
<text transform="translate(1011.35,834.80) scale(0.575,1)" font-size="11.5" font-weight="normal" fill="#333" text-anchor="start" stroke="#333" stroke-width="0.35">Female</text>
<rect x="1036.65" y="822.80" width="9.5" height="15.5" fill="#FFD700"/>
<text transform="translate(1049.35,834.80) scale(0.575,1)" font-size="11.5" font-weight="normal" fill="#333" text-anchor="start" stroke="#333" stroke-width="0.35">Male</text>
<line x1="1268.80" y1="491.3" x2="1268.80" y2="776.8" stroke="#EEEEEE" stroke-width="1.2"/>
<line x1="1338.20" y1="491.3" x2="1338.20" y2="776.8" stroke="#EEEEEE" stroke-width="1.2"/>
<line x1="1407.60" y1="491.3" x2="1407.60" y2="776.8" stroke="#EEEEEE" stroke-width="1.2"/>
<line x1="1477.00" y1="491.3" x2="1477.00" y2="776.8" stroke="#EEEEEE" stroke-width="1.2"/>
<line x1="1257.3" y1="510.30" x2="1519.6" y2="510.30" stroke="#E3E3E3" stroke-width="1.4"/>
<line x1="1257.3" y1="541.30" x2="1519.6" y2="541.30" stroke="#E3E3E3" stroke-width="1.4"/>
<line x1="1257.3" y1="572.30" x2="1519.6" y2="572.30" stroke="#E3E3E3" stroke-width="1.4"/>
<line x1="1257.3" y1="603.30" x2="1519.6" y2="603.30" stroke="#E3E3E3" stroke-width="1.4"/>
<line x1="1257.3" y1="634.30" x2="1519.6" y2="634.30" stroke="#E3E3E3" stroke-width="1.4"/>
<line x1="1257.3" y1="665.30" x2="1519.6" y2="665.30" stroke="#E3E3E3" stroke-width="1.4"/>
<line x1="1257.3" y1="696.30" x2="1519.6" y2="696.30" stroke="#E3E3E3" stroke-width="1.4"/>
<line x1="1257.3" y1="727.30" x2="1519.6" y2="727.30" stroke="#E3E3E3" stroke-width="1.4"/>
<line x1="1257.3" y1="758.30" x2="1519.6" y2="758.30" stroke="#E3E3E3" stroke-width="1.4"/>
<rect x="1378.52" y="497.15" width="20.12" height="8.6" fill="#fff"/>
<rect x="1507.33" y="504.60" width="24.07" height="8.90" fill="#fff"/>
<rect x="1434.39" y="514.85" width="20.12" height="8.6" fill="#fff"/>
<rect x="1399.97" y="528.15" width="20.12" height="8.6" fill="#fff"/>
<rect x="1401.08" y="537.00" width="20.12" height="8.6" fill="#fff"/>
<rect x="1401.22" y="545.85" width="20.12" height="8.6" fill="#fff"/>
<rect x="1338.62" y="559.15" width="20.12" height="8.6" fill="#fff"/>
<rect x="1410.72" y="568.00" width="20.12" height="8.6" fill="#fff"/>
<rect x="1371.58" y="576.85" width="20.12" height="8.6" fill="#fff"/>
<rect x="1307.04" y="590.15" width="20.12" height="8.6" fill="#fff"/>
<rect x="1352.91" y="599.00" width="20.12" height="8.6" fill="#fff"/>
<rect x="1328.07" y="607.85" width="20.12" height="8.6" fill="#fff"/>
<rect x="1331.88" y="621.15" width="20.12" height="8.6" fill="#fff"/>
<rect x="1310.23" y="630.00" width="20.12" height="8.6" fill="#fff"/>
<rect x="1323.00" y="638.85" width="20.12" height="8.6" fill="#fff"/>
<rect x="1323.21" y="652.15" width="20.12" height="8.6" fill="#fff"/>
<rect x="1303.50" y="661.00" width="20.12" height="8.6" fill="#fff"/>
<rect x="1315.09" y="669.85" width="20.12" height="8.6" fill="#fff"/>
<rect x="1308.08" y="683.15" width="20.12" height="8.6" fill="#fff"/>
<rect x="1313.22" y="692.00" width="20.12" height="8.6" fill="#fff"/>
<rect x="1310.65" y="700.85" width="20.12" height="8.6" fill="#fff"/>
<rect x="1316.69" y="714.15" width="20.12" height="8.6" fill="#fff"/>
<rect x="1297.46" y="723.00" width="20.12" height="8.6" fill="#fff"/>
<rect x="1308.64" y="731.85" width="20.12" height="8.6" fill="#fff"/>
<rect x="1277.68" y="745.15" width="20.12" height="8.6" fill="#fff"/>
<rect x="1279.07" y="754.00" width="20.12" height="8.6" fill="#fff"/>
<rect x="1278.38" y="762.85" width="20.12" height="8.6" fill="#fff"/>
<rect x="1268.80" y="497.65" width="109.72" height="7.6" fill="#FFD700"/>
<rect x="1268.80" y="506.50" width="238.53" height="7.6" fill="#CD5C5C"/>
<rect x="1268.80" y="515.35" width="165.59" height="7.6" fill="#4682B4"/>
<rect x="1268.80" y="528.65" width="131.17" height="7.6" fill="#FFD700"/>
<rect x="1268.80" y="537.50" width="132.28" height="7.6" fill="#CD5C5C"/>
<rect x="1268.80" y="546.35" width="132.42" height="7.6" fill="#4682B4"/>
<rect x="1268.80" y="559.65" width="69.82" height="7.6" fill="#FFD700"/>
<rect x="1268.80" y="568.50" width="141.92" height="7.6" fill="#CD5C5C"/>
<rect x="1268.80" y="577.35" width="102.78" height="7.6" fill="#4682B4"/>
<rect x="1268.80" y="590.65" width="38.24" height="7.6" fill="#FFD700"/>
<rect x="1268.80" y="599.50" width="84.11" height="7.6" fill="#CD5C5C"/>
<rect x="1268.80" y="608.35" width="59.27" height="7.6" fill="#4682B4"/>
<rect x="1268.80" y="621.65" width="63.08" height="7.6" fill="#FFD700"/>
<rect x="1268.80" y="630.50" width="41.43" height="7.6" fill="#CD5C5C"/>
<rect x="1268.80" y="639.35" width="54.20" height="7.6" fill="#4682B4"/>
<rect x="1268.80" y="652.65" width="54.41" height="7.6" fill="#FFD700"/>
<rect x="1268.80" y="661.50" width="34.70" height="7.6" fill="#CD5C5C"/>
<rect x="1268.80" y="670.35" width="46.29" height="7.6" fill="#4682B4"/>
<rect x="1268.80" y="683.65" width="39.28" height="7.6" fill="#FFD700"/>
<rect x="1268.80" y="692.50" width="44.42" height="7.6" fill="#CD5C5C"/>
<rect x="1268.80" y="701.35" width="41.85" height="7.6" fill="#4682B4"/>
<rect x="1268.80" y="714.65" width="47.89" height="7.6" fill="#FFD700"/>
<rect x="1268.80" y="723.50" width="28.66" height="7.6" fill="#CD5C5C"/>
<rect x="1268.80" y="732.35" width="39.84" height="7.6" fill="#4682B4"/>
<rect x="1268.80" y="745.65" width="8.88" height="7.6" fill="#FFD700"/>
<rect x="1268.80" y="754.50" width="10.27" height="7.6" fill="#CD5C5C"/>
<rect x="1268.80" y="763.35" width="9.58" height="7.6" fill="#4682B4"/>
<text transform="translate(1381.12,505.95) scale(0.650,1)" font-size="10.0" font-weight="bold" fill="#000" text-anchor="start" stroke="#000" stroke-width="0.25">1.581</text>
<text x="1510.00" y="512.00" font-size="8.4" font-weight="bold" fill="#111" stroke="#111" stroke-width="0.25" textLength="19.90" lengthAdjust="spacingAndGlyphs">3.437</text>
<text transform="translate(1436.99,523.65) scale(0.650,1)" font-size="10.0" font-weight="bold" fill="#000" text-anchor="start" stroke="#000" stroke-width="0.25">2.386</text>
<text transform="translate(1253.60,514.30) scale(0.590,1)" font-size="11.1" font-weight="bold" fill="#404040" text-anchor="end" stroke="#404040" stroke-width="0.25">Diet High in Red Meat</text>
<text transform="translate(1402.57,536.95) scale(0.650,1)" font-size="10.0" font-weight="bold" fill="#000" text-anchor="start" stroke="#000" stroke-width="0.25">1.890</text>
<text transform="translate(1403.68,545.80) scale(0.650,1)" font-size="10.0" font-weight="bold" fill="#000" text-anchor="start" stroke="#000" stroke-width="0.25">1.906</text>
<text transform="translate(1403.82,554.65) scale(0.650,1)" font-size="10.0" font-weight="bold" fill="#000" text-anchor="start" stroke="#000" stroke-width="0.25">1.908</text>
<text transform="translate(1253.60,545.30) scale(0.590,1)" font-size="11.1" font-weight="bold" fill="#404040" text-anchor="end" stroke="#404040" stroke-width="0.25">Diet Low in Whole Grains</text>
<text transform="translate(1341.22,567.95) scale(0.650,1)" font-size="10.0" font-weight="bold" fill="#000" text-anchor="start" stroke="#000" stroke-width="0.25">1.006</text>
<text transform="translate(1413.32,576.80) scale(0.650,1)" font-size="10.0" font-weight="bold" fill="#000" text-anchor="start" stroke="#000" stroke-width="0.25">2.045</text>
<text transform="translate(1374.18,585.65) scale(0.650,1)" font-size="10.0" font-weight="bold" fill="#000" text-anchor="start" stroke="#000" stroke-width="0.25">1.481</text>
<text transform="translate(1253.60,576.30) scale(0.590,1)" font-size="11.1" font-weight="bold" fill="#404040" text-anchor="end" stroke="#404040" stroke-width="0.25">Diet Low in Milk</text>
<text transform="translate(1309.64,598.95) scale(0.650,1)" font-size="10.0" font-weight="bold" fill="#000" text-anchor="start" stroke="#000" stroke-width="0.25">0.551</text>
<text transform="translate(1355.51,607.80) scale(0.650,1)" font-size="10.0" font-weight="bold" fill="#000" text-anchor="start" stroke="#000" stroke-width="0.25">1.212</text>
<text transform="translate(1330.67,616.65) scale(0.650,1)" font-size="10.0" font-weight="bold" fill="#000" text-anchor="start" stroke="#000" stroke-width="0.25">0.854</text>
<text transform="translate(1253.60,607.30) scale(0.590,1)" font-size="11.1" font-weight="bold" fill="#404040" text-anchor="end" stroke="#404040" stroke-width="0.25">Diet Low in Calcium</text>
<text transform="translate(1334.48,629.95) scale(0.650,1)" font-size="10.0" font-weight="bold" fill="#000" text-anchor="start" stroke="#000" stroke-width="0.25">0.909</text>
<text transform="translate(1312.83,638.80) scale(0.650,1)" font-size="10.0" font-weight="bold" fill="#000" text-anchor="start" stroke="#000" stroke-width="0.25">0.597</text>
<text transform="translate(1325.60,647.65) scale(0.650,1)" font-size="10.0" font-weight="bold" fill="#000" text-anchor="start" stroke="#000" stroke-width="0.25">0.781</text>
<text transform="translate(1253.60,638.30) scale(0.590,1)" font-size="11.1" font-weight="bold" fill="#404040" text-anchor="end" stroke="#404040" stroke-width="0.25">Diet High in Sodium</text>
<text transform="translate(1325.81,660.95) scale(0.650,1)" font-size="10.0" font-weight="bold" fill="#000" text-anchor="start" stroke="#000" stroke-width="0.25">0.784</text>
<text transform="translate(1306.10,669.80) scale(0.650,1)" font-size="10.0" font-weight="bold" fill="#000" text-anchor="start" stroke="#000" stroke-width="0.25">0.500</text>
<text transform="translate(1317.69,678.65) scale(0.650,1)" font-size="10.0" font-weight="bold" fill="#000" text-anchor="start" stroke="#000" stroke-width="0.25">0.667</text>
<text transform="translate(1253.60,669.30) scale(0.590,1)" font-size="11.1" font-weight="bold" fill="#404040" text-anchor="end" stroke="#404040" stroke-width="0.25">Diet Low in Fruits</text>
<text transform="translate(1310.68,691.95) scale(0.650,1)" font-size="10.0" font-weight="bold" fill="#000" text-anchor="start" stroke="#000" stroke-width="0.25">0.566</text>
<text transform="translate(1315.82,700.80) scale(0.650,1)" font-size="10.0" font-weight="bold" fill="#000" text-anchor="start" stroke="#000" stroke-width="0.25">0.640</text>
<text transform="translate(1313.25,709.65) scale(0.650,1)" font-size="10.0" font-weight="bold" fill="#000" text-anchor="start" stroke="#000" stroke-width="0.25">0.603</text>
<text transform="translate(1253.60,700.30) scale(0.590,1)" font-size="11.1" font-weight="bold" fill="#404040" text-anchor="end" stroke="#404040" stroke-width="0.25">Diet High in Processed Meat</text>
<text transform="translate(1319.29,722.95) scale(0.650,1)" font-size="10.0" font-weight="bold" fill="#000" text-anchor="start" stroke="#000" stroke-width="0.25">0.690</text>
<text transform="translate(1300.06,731.80) scale(0.650,1)" font-size="10.0" font-weight="bold" fill="#000" text-anchor="start" stroke="#000" stroke-width="0.25">0.413</text>
<text transform="translate(1311.24,740.65) scale(0.650,1)" font-size="10.0" font-weight="bold" fill="#000" text-anchor="start" stroke="#000" stroke-width="0.25">0.574</text>
<text transform="translate(1253.60,731.30) scale(0.590,1)" font-size="11.1" font-weight="bold" fill="#404040" text-anchor="end" stroke="#404040" stroke-width="0.25">Diet Low in Vegetables</text>
<text transform="translate(1280.28,753.95) scale(0.650,1)" font-size="10.0" font-weight="bold" fill="#000" text-anchor="start" stroke="#000" stroke-width="0.25">0.128</text>
<text transform="translate(1281.67,762.80) scale(0.650,1)" font-size="10.0" font-weight="bold" fill="#000" text-anchor="start" stroke="#000" stroke-width="0.25">0.148</text>
<text transform="translate(1280.98,771.65) scale(0.650,1)" font-size="10.0" font-weight="bold" fill="#000" text-anchor="start" stroke="#000" stroke-width="0.25">0.138</text>
<text transform="translate(1253.60,762.30) scale(0.590,1)" font-size="11.1" font-weight="bold" fill="#404040" text-anchor="end" stroke="#404040" stroke-width="0.25">Diet Low in Fiber</text>
<text transform="translate(1268.80,789.30) scale(0.580,1)" font-size="10.4" font-weight="normal" fill="#666666" text-anchor="middle">0</text>
<text transform="translate(1338.20,789.30) scale(0.580,1)" font-size="10.4" font-weight="normal" fill="#666666" text-anchor="middle">1</text>
<text transform="translate(1407.60,789.30) scale(0.580,1)" font-size="10.4" font-weight="normal" fill="#666666" text-anchor="middle">2</text>
<text transform="translate(1477.00,789.30) scale(0.580,1)" font-size="10.4" font-weight="normal" fill="#666666" text-anchor="middle">3</text>
<text transform="translate(1388.45,802.80) scale(0.685,1)" font-size="10.4" font-weight="bold" fill="#000" text-anchor="middle" stroke="#000" stroke-width="0.3">Attribution Proportion(%)</text>
<text x="1204.70" y="473.30" font-size="12.9" font-weight="bold" fill="#111" stroke="#111" stroke-width="0.4" textLength="322.10" lengthAdjust="spacingAndGlyphs">Attribution Proportion of Dietary Risk Factors to Cancer by Sex in Global Region</text>
<text x="1375.10" y="487.70" font-size="9.0" font-weight="bold" fill="#1a1a1a" stroke="#1a1a1a" stroke-width="0.2" textLength="36.90" lengthAdjust="spacingAndGlyphs">2016–2021</text>
<text transform="translate(1322.55,835.00) scale(0.600,1)" font-size="11.8" font-weight="bold" fill="#000" text-anchor="start" stroke="#000" stroke-width="0.3">Sex</text>
<rect x="1338.45" y="822.80" width="9.5" height="15.5" fill="#4682B4"/>
<text transform="translate(1351.85,834.80) scale(0.575,1)" font-size="11.5" font-weight="normal" fill="#333" text-anchor="start" stroke="#333" stroke-width="0.35">Both</text>
<rect x="1388.25" y="822.80" width="9.5" height="15.5" fill="#CD5C5C"/>
<text transform="translate(1401.35,834.80) scale(0.575,1)" font-size="11.5" font-weight="normal" fill="#333" text-anchor="start" stroke="#333" stroke-width="0.35">Female</text>
<rect x="1426.65" y="822.80" width="9.5" height="15.5" fill="#FFD700"/>
<text transform="translate(1439.35,834.80) scale(0.575,1)" font-size="11.5" font-weight="normal" fill="#333" text-anchor="start" stroke="#333" stroke-width="0.35">Male</text>
</svg>
</body></html>
